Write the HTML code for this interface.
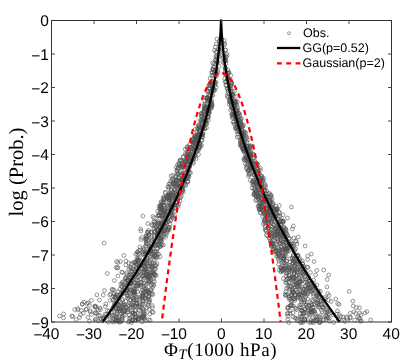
<!DOCTYPE html>
<html><head><meta charset="utf-8"><style>
html,body{margin:0;padding:0;background:#fff}
svg{display:block;will-change:transform}
text{text-rendering:geometricPrecision}
text{font-family:"Liberation Sans",sans-serif;fill:#000}
.tk text{font-size:15.5px}
.lg text{font-size:12.5px}
.ax{font-family:"Liberation Serif",serif;font-size:19px}
#pts circle{r:1.9px}
</style></head><body>
<svg width="412" height="363" viewBox="0 0 412 363">
<rect width="412" height="363" fill="#fff"/>
<g id="pts" fill="none" stroke="#505050" stroke-width="0.6"><circle cx="288.9" cy="275.1" r="1.9"/><circle cx="152.2" cy="305.6" r="1.9"/><circle cx="146.2" cy="237.6" r="1.9"/><circle cx="190.4" cy="154.0" r="1.9"/><circle cx="136.9" cy="303.2" r="1.9"/><circle cx="268.8" cy="227.9" r="1.9"/><circle cx="123.1" cy="311.8" r="1.9"/><circle cx="280.9" cy="272.0" r="1.9"/><circle cx="131.3" cy="304.6" r="1.9"/><circle cx="232.9" cy="108.5" r="1.9"/><circle cx="197.7" cy="148.9" r="1.9"/><circle cx="233.4" cy="110.9" r="1.9"/><circle cx="146.8" cy="252.6" r="1.9"/><circle cx="279.5" cy="251.1" r="1.9"/><circle cx="278.1" cy="231.1" r="1.9"/><circle cx="257.7" cy="169.1" r="1.9"/><circle cx="125.0" cy="305.0" r="1.9"/><circle cx="131.7" cy="289.7" r="1.9"/><circle cx="193.2" cy="143.8" r="1.9"/><circle cx="209.6" cy="106.5" r="1.9"/><circle cx="284.3" cy="247.8" r="1.9"/><circle cx="195.3" cy="129.4" r="1.9"/><circle cx="302.8" cy="264.1" r="1.9"/><circle cx="164.2" cy="222.6" r="1.9"/><circle cx="209.8" cy="106.0" r="1.9"/><circle cx="177.4" cy="194.8" r="1.9"/><circle cx="205.7" cy="119.7" r="1.9"/><circle cx="252.0" cy="166.4" r="1.9"/><circle cx="205.1" cy="123.8" r="1.9"/><circle cx="301.4" cy="310.3" r="1.9"/><circle cx="234.3" cy="105.4" r="1.9"/><circle cx="137.4" cy="252.0" r="1.9"/><circle cx="339.3" cy="314.5" r="1.9"/><circle cx="208.6" cy="111.5" r="1.9"/><circle cx="240.9" cy="142.8" r="1.9"/><circle cx="194.6" cy="137.0" r="1.9"/><circle cx="128.7" cy="275.4" r="1.9"/><circle cx="222.4" cy="43.8" r="1.9"/><circle cx="139.6" cy="307.3" r="1.9"/><circle cx="338.9" cy="304.5" r="1.9"/><circle cx="256.4" cy="190.4" r="1.9"/><circle cx="278.1" cy="224.4" r="1.9"/><circle cx="294.7" cy="262.0" r="1.9"/><circle cx="283.9" cy="235.5" r="1.9"/><circle cx="97.3" cy="319.5" r="1.9"/><circle cx="242.6" cy="145.2" r="1.9"/><circle cx="275.9" cy="215.7" r="1.9"/><circle cx="153.2" cy="275.5" r="1.9"/><circle cx="209.9" cy="99.6" r="1.9"/><circle cx="285.1" cy="294.4" r="1.9"/><circle cx="292.3" cy="263.9" r="1.9"/><circle cx="280.2" cy="228.5" r="1.9"/><circle cx="122.1" cy="294.4" r="1.9"/><circle cx="188.1" cy="156.0" r="1.9"/><circle cx="299.1" cy="288.2" r="1.9"/><circle cx="211.4" cy="107.7" r="1.9"/><circle cx="227.3" cy="79.1" r="1.9"/><circle cx="145.4" cy="251.9" r="1.9"/><circle cx="233.9" cy="105.2" r="1.9"/><circle cx="257.0" cy="196.8" r="1.9"/><circle cx="155.1" cy="251.1" r="1.9"/><circle cx="259.1" cy="209.7" r="1.9"/><circle cx="157.3" cy="224.7" r="1.9"/><circle cx="155.4" cy="252.3" r="1.9"/><circle cx="193.1" cy="146.5" r="1.9"/><circle cx="294.1" cy="261.3" r="1.9"/><circle cx="151.3" cy="290.1" r="1.9"/><circle cx="292.9" cy="285.1" r="1.9"/><circle cx="279.1" cy="249.3" r="1.9"/><circle cx="122.0" cy="286.4" r="1.9"/><circle cx="303.4" cy="293.6" r="1.9"/><circle cx="208.9" cy="110.4" r="1.9"/><circle cx="318.9" cy="296.5" r="1.9"/><circle cx="258.6" cy="172.8" r="1.9"/><circle cx="337.1" cy="314.0" r="1.9"/><circle cx="265.3" cy="186.5" r="1.9"/><circle cx="170.1" cy="194.2" r="1.9"/><circle cx="201.3" cy="113.2" r="1.9"/><circle cx="134.0" cy="298.4" r="1.9"/><circle cx="87.9" cy="317.3" r="1.9"/><circle cx="246.1" cy="138.3" r="1.9"/><circle cx="148.4" cy="299.1" r="1.9"/><circle cx="281.3" cy="235.4" r="1.9"/><circle cx="272.6" cy="236.5" r="1.9"/><circle cx="271.2" cy="245.7" r="1.9"/><circle cx="133.4" cy="280.1" r="1.9"/><circle cx="250.0" cy="170.3" r="1.9"/><circle cx="285.8" cy="237.0" r="1.9"/><circle cx="307.6" cy="256.0" r="1.9"/><circle cx="278.5" cy="228.8" r="1.9"/><circle cx="165.4" cy="192.2" r="1.9"/><circle cx="189.5" cy="144.5" r="1.9"/><circle cx="251.0" cy="166.1" r="1.9"/><circle cx="272.0" cy="244.4" r="1.9"/><circle cx="240.6" cy="119.9" r="1.9"/><circle cx="146.8" cy="307.8" r="1.9"/><circle cx="241.6" cy="132.6" r="1.9"/><circle cx="164.6" cy="231.1" r="1.9"/><circle cx="254.9" cy="164.4" r="1.9"/><circle cx="271.5" cy="207.5" r="1.9"/><circle cx="204.3" cy="126.4" r="1.9"/><circle cx="172.8" cy="205.3" r="1.9"/><circle cx="152.5" cy="287.9" r="1.9"/><circle cx="324.0" cy="307.0" r="1.9"/><circle cx="254.5" cy="161.4" r="1.9"/><circle cx="213.2" cy="88.7" r="1.9"/><circle cx="248.0" cy="159.8" r="1.9"/><circle cx="231.6" cy="94.8" r="1.9"/><circle cx="148.9" cy="252.7" r="1.9"/><circle cx="224.9" cy="60.5" r="1.9"/><circle cx="215.8" cy="52.2" r="1.9"/><circle cx="188.1" cy="174.1" r="1.9"/><circle cx="236.7" cy="126.8" r="1.9"/><circle cx="197.4" cy="135.2" r="1.9"/><circle cx="265.8" cy="229.9" r="1.9"/><circle cx="278.8" cy="234.8" r="1.9"/><circle cx="273.9" cy="216.7" r="1.9"/><circle cx="198.3" cy="138.0" r="1.9"/><circle cx="194.4" cy="142.1" r="1.9"/><circle cx="316.9" cy="302.8" r="1.9"/><circle cx="323.3" cy="300.2" r="1.9"/><circle cx="91.3" cy="300.5" r="1.9"/><circle cx="130.7" cy="273.9" r="1.9"/><circle cx="198.5" cy="154.5" r="1.9"/><circle cx="171.4" cy="190.4" r="1.9"/><circle cx="245.2" cy="154.6" r="1.9"/><circle cx="291.8" cy="290.3" r="1.9"/><circle cx="176.7" cy="184.3" r="1.9"/><circle cx="199.3" cy="131.3" r="1.9"/><circle cx="172.7" cy="216.5" r="1.9"/><circle cx="317.6" cy="291.3" r="1.9"/><circle cx="119.0" cy="311.3" r="1.9"/><circle cx="261.4" cy="196.1" r="1.9"/><circle cx="165.1" cy="212.3" r="1.9"/><circle cx="294.1" cy="277.7" r="1.9"/><circle cx="146.0" cy="263.6" r="1.9"/><circle cx="236.9" cy="128.8" r="1.9"/><circle cx="186.4" cy="179.0" r="1.9"/><circle cx="285.5" cy="268.8" r="1.9"/><circle cx="168.2" cy="207.7" r="1.9"/><circle cx="169.9" cy="183.6" r="1.9"/><circle cx="245.1" cy="141.7" r="1.9"/><circle cx="256.1" cy="195.5" r="1.9"/><circle cx="206.5" cy="123.9" r="1.9"/><circle cx="250.3" cy="147.6" r="1.9"/><circle cx="147.6" cy="232.0" r="1.9"/><circle cx="260.4" cy="170.4" r="1.9"/><circle cx="137.7" cy="262.6" r="1.9"/><circle cx="160.2" cy="246.4" r="1.9"/><circle cx="312.4" cy="317.8" r="1.9"/><circle cx="152.4" cy="225.5" r="1.9"/><circle cx="153.5" cy="257.2" r="1.9"/><circle cx="254.1" cy="194.0" r="1.9"/><circle cx="256.7" cy="168.6" r="1.9"/><circle cx="212.1" cy="91.3" r="1.9"/><circle cx="147.9" cy="283.4" r="1.9"/><circle cx="131.7" cy="322.6" r="1.9"/><circle cx="203.3" cy="114.4" r="1.9"/><circle cx="135.3" cy="270.9" r="1.9"/><circle cx="151.4" cy="246.8" r="1.9"/><circle cx="261.6" cy="199.6" r="1.9"/><circle cx="187.9" cy="175.6" r="1.9"/><circle cx="96.9" cy="294.8" r="1.9"/><circle cx="295.0" cy="286.4" r="1.9"/><circle cx="270.1" cy="206.0" r="1.9"/><circle cx="143.1" cy="254.1" r="1.9"/><circle cx="198.0" cy="141.5" r="1.9"/><circle cx="258.6" cy="199.4" r="1.9"/><circle cx="136.1" cy="317.1" r="1.9"/><circle cx="249.2" cy="169.8" r="1.9"/><circle cx="350.3" cy="313.2" r="1.9"/><circle cx="277.0" cy="238.8" r="1.9"/><circle cx="243.4" cy="124.9" r="1.9"/><circle cx="271.2" cy="234.2" r="1.9"/><circle cx="262.6" cy="216.6" r="1.9"/><circle cx="303.8" cy="266.3" r="1.9"/><circle cx="214.3" cy="89.3" r="1.9"/><circle cx="120.6" cy="295.0" r="1.9"/><circle cx="274.0" cy="220.7" r="1.9"/><circle cx="195.4" cy="144.1" r="1.9"/><circle cx="262.3" cy="198.7" r="1.9"/><circle cx="119.9" cy="289.2" r="1.9"/><circle cx="127.9" cy="311.5" r="1.9"/><circle cx="275.4" cy="213.3" r="1.9"/><circle cx="250.8" cy="151.4" r="1.9"/><circle cx="292.3" cy="291.9" r="1.9"/><circle cx="127.2" cy="290.0" r="1.9"/><circle cx="157.4" cy="257.4" r="1.9"/><circle cx="286.0" cy="291.7" r="1.9"/><circle cx="270.2" cy="235.8" r="1.9"/><circle cx="312.7" cy="289.7" r="1.9"/><circle cx="263.6" cy="178.6" r="1.9"/><circle cx="215.5" cy="70.5" r="1.9"/><circle cx="278.8" cy="228.6" r="1.9"/><circle cx="207.0" cy="109.1" r="1.9"/><circle cx="303.8" cy="288.9" r="1.9"/><circle cx="190.7" cy="158.2" r="1.9"/><circle cx="287.2" cy="241.3" r="1.9"/><circle cx="320.4" cy="317.4" r="1.9"/><circle cx="165.5" cy="237.3" r="1.9"/><circle cx="286.2" cy="232.4" r="1.9"/><circle cx="261.8" cy="198.6" r="1.9"/><circle cx="133.7" cy="299.6" r="1.9"/><circle cx="211.9" cy="103.6" r="1.9"/><circle cx="205.3" cy="106.6" r="1.9"/><circle cx="187.8" cy="182.1" r="1.9"/><circle cx="148.3" cy="252.7" r="1.9"/><circle cx="133.5" cy="290.1" r="1.9"/><circle cx="147.3" cy="277.5" r="1.9"/><circle cx="269.9" cy="212.0" r="1.9"/><circle cx="164.5" cy="205.0" r="1.9"/><circle cx="189.8" cy="147.6" r="1.9"/><circle cx="293.9" cy="259.9" r="1.9"/><circle cx="117.9" cy="276.0" r="1.9"/><circle cx="144.1" cy="265.9" r="1.9"/><circle cx="293.3" cy="277.3" r="1.9"/><circle cx="315.6" cy="275.0" r="1.9"/><circle cx="302.4" cy="261.0" r="1.9"/><circle cx="250.1" cy="146.4" r="1.9"/><circle cx="298.5" cy="264.3" r="1.9"/><circle cx="253.6" cy="163.8" r="1.9"/><circle cx="139.2" cy="274.1" r="1.9"/><circle cx="237.5" cy="109.8" r="1.9"/><circle cx="280.5" cy="243.7" r="1.9"/><circle cx="135.8" cy="317.1" r="1.9"/><circle cx="137.4" cy="259.8" r="1.9"/><circle cx="143.4" cy="264.0" r="1.9"/><circle cx="259.0" cy="180.4" r="1.9"/><circle cx="152.7" cy="266.6" r="1.9"/><circle cx="149.1" cy="301.6" r="1.9"/><circle cx="198.8" cy="135.2" r="1.9"/><circle cx="150.0" cy="248.6" r="1.9"/><circle cx="144.9" cy="254.2" r="1.9"/><circle cx="165.1" cy="211.6" r="1.9"/><circle cx="144.6" cy="277.6" r="1.9"/><circle cx="264.7" cy="213.6" r="1.9"/><circle cx="315.5" cy="320.0" r="1.9"/><circle cx="192.3" cy="149.1" r="1.9"/><circle cx="174.9" cy="196.7" r="1.9"/><circle cx="144.3" cy="266.1" r="1.9"/><circle cx="181.7" cy="189.1" r="1.9"/><circle cx="232.4" cy="93.9" r="1.9"/><circle cx="133.8" cy="291.9" r="1.9"/><circle cx="216.4" cy="73.7" r="1.9"/><circle cx="166.9" cy="212.0" r="1.9"/><circle cx="141.2" cy="279.4" r="1.9"/><circle cx="230.7" cy="91.2" r="1.9"/><circle cx="143.8" cy="283.2" r="1.9"/><circle cx="282.0" cy="255.6" r="1.9"/><circle cx="187.4" cy="148.9" r="1.9"/><circle cx="304.6" cy="304.0" r="1.9"/><circle cx="154.9" cy="232.0" r="1.9"/><circle cx="307.5" cy="284.6" r="1.9"/><circle cx="143.0" cy="300.2" r="1.9"/><circle cx="313.2" cy="301.0" r="1.9"/><circle cx="270.1" cy="233.4" r="1.9"/><circle cx="252.6" cy="182.4" r="1.9"/><circle cx="202.3" cy="124.7" r="1.9"/><circle cx="124.3" cy="287.2" r="1.9"/><circle cx="237.8" cy="122.9" r="1.9"/><circle cx="153.5" cy="284.1" r="1.9"/><circle cx="317.6" cy="303.7" r="1.9"/><circle cx="138.9" cy="253.5" r="1.9"/><circle cx="244.0" cy="132.0" r="1.9"/><circle cx="211.3" cy="107.7" r="1.9"/><circle cx="310.7" cy="311.5" r="1.9"/><circle cx="171.3" cy="207.2" r="1.9"/><circle cx="253.1" cy="180.5" r="1.9"/><circle cx="230.5" cy="91.7" r="1.9"/><circle cx="117.8" cy="320.7" r="1.9"/><circle cx="283.6" cy="258.7" r="1.9"/><circle cx="188.0" cy="181.0" r="1.9"/><circle cx="201.3" cy="134.1" r="1.9"/><circle cx="294.0" cy="272.4" r="1.9"/><circle cx="270.8" cy="195.0" r="1.9"/><circle cx="298.0" cy="298.1" r="1.9"/><circle cx="165.1" cy="213.5" r="1.9"/><circle cx="253.1" cy="161.8" r="1.9"/><circle cx="282.9" cy="269.6" r="1.9"/><circle cx="169.0" cy="227.5" r="1.9"/><circle cx="299.3" cy="259.8" r="1.9"/><circle cx="159.0" cy="206.5" r="1.9"/><circle cx="150.4" cy="250.1" r="1.9"/><circle cx="270.5" cy="226.3" r="1.9"/><circle cx="291.9" cy="295.0" r="1.9"/><circle cx="99.9" cy="308.0" r="1.9"/><circle cx="150.9" cy="250.4" r="1.9"/><circle cx="266.3" cy="198.7" r="1.9"/><circle cx="144.0" cy="313.7" r="1.9"/><circle cx="258.5" cy="196.1" r="1.9"/><circle cx="307.9" cy="299.4" r="1.9"/><circle cx="288.1" cy="308.0" r="1.9"/><circle cx="164.2" cy="198.6" r="1.9"/><circle cx="116.1" cy="267.5" r="1.9"/><circle cx="139.2" cy="260.4" r="1.9"/><circle cx="265.8" cy="201.7" r="1.9"/><circle cx="130.6" cy="275.0" r="1.9"/><circle cx="167.2" cy="230.2" r="1.9"/><circle cx="196.6" cy="140.4" r="1.9"/><circle cx="274.9" cy="234.2" r="1.9"/><circle cx="175.8" cy="186.2" r="1.9"/><circle cx="194.5" cy="142.1" r="1.9"/><circle cx="120.3" cy="310.6" r="1.9"/><circle cx="141.8" cy="298.1" r="1.9"/><circle cx="148.5" cy="277.0" r="1.9"/><circle cx="157.7" cy="211.2" r="1.9"/><circle cx="119.4" cy="308.8" r="1.9"/><circle cx="225.0" cy="57.7" r="1.9"/><circle cx="271.4" cy="232.4" r="1.9"/><circle cx="160.6" cy="209.3" r="1.9"/><circle cx="284.0" cy="230.9" r="1.9"/><circle cx="286.0" cy="248.8" r="1.9"/><circle cx="326.8" cy="310.0" r="1.9"/><circle cx="175.1" cy="182.8" r="1.9"/><circle cx="294.6" cy="284.6" r="1.9"/><circle cx="278.6" cy="264.3" r="1.9"/><circle cx="187.3" cy="153.9" r="1.9"/><circle cx="120.7" cy="309.3" r="1.9"/><circle cx="260.5" cy="212.2" r="1.9"/><circle cx="230.2" cy="100.8" r="1.9"/><circle cx="132.2" cy="281.3" r="1.9"/><circle cx="156.2" cy="255.3" r="1.9"/><circle cx="153.9" cy="253.6" r="1.9"/><circle cx="283.2" cy="220.9" r="1.9"/><circle cx="169.4" cy="227.3" r="1.9"/><circle cx="150.7" cy="275.1" r="1.9"/><circle cx="194.3" cy="156.2" r="1.9"/><circle cx="113.3" cy="306.9" r="1.9"/><circle cx="328.3" cy="311.1" r="1.9"/><circle cx="319.3" cy="305.0" r="1.9"/><circle cx="196.9" cy="131.0" r="1.9"/><circle cx="286.6" cy="242.6" r="1.9"/><circle cx="308.6" cy="314.7" r="1.9"/><circle cx="183.1" cy="156.6" r="1.9"/><circle cx="273.6" cy="245.7" r="1.9"/><circle cx="242.1" cy="134.3" r="1.9"/><circle cx="289.0" cy="297.6" r="1.9"/><circle cx="275.4" cy="244.6" r="1.9"/><circle cx="174.9" cy="205.2" r="1.9"/><circle cx="256.1" cy="191.1" r="1.9"/><circle cx="162.0" cy="209.9" r="1.9"/><circle cx="319.2" cy="322.6" r="1.9"/><circle cx="167.7" cy="196.7" r="1.9"/><circle cx="211.0" cy="84.8" r="1.9"/><circle cx="220.3" cy="46.5" r="1.9"/><circle cx="195.7" cy="156.2" r="1.9"/><circle cx="208.0" cy="97.9" r="1.9"/><circle cx="282.8" cy="255.7" r="1.9"/><circle cx="232.0" cy="83.0" r="1.9"/><circle cx="208.9" cy="109.7" r="1.9"/><circle cx="275.0" cy="208.8" r="1.9"/><circle cx="209.3" cy="88.5" r="1.9"/><circle cx="266.8" cy="216.4" r="1.9"/><circle cx="215.3" cy="83.4" r="1.9"/><circle cx="243.9" cy="148.9" r="1.9"/><circle cx="133.5" cy="294.5" r="1.9"/><circle cx="277.1" cy="209.3" r="1.9"/><circle cx="313.6" cy="311.4" r="1.9"/><circle cx="214.8" cy="75.0" r="1.9"/><circle cx="286.4" cy="270.9" r="1.9"/><circle cx="274.9" cy="229.1" r="1.9"/><circle cx="156.4" cy="233.6" r="1.9"/><circle cx="161.0" cy="223.9" r="1.9"/><circle cx="303.8" cy="301.9" r="1.9"/><circle cx="298.7" cy="295.0" r="1.9"/><circle cx="186.5" cy="161.3" r="1.9"/><circle cx="289.2" cy="238.7" r="1.9"/><circle cx="129.0" cy="302.8" r="1.9"/><circle cx="316.5" cy="296.2" r="1.9"/><circle cx="133.3" cy="313.1" r="1.9"/><circle cx="103.0" cy="318.3" r="1.9"/><circle cx="269.4" cy="233.3" r="1.9"/><circle cx="339.1" cy="319.5" r="1.9"/><circle cx="242.4" cy="133.5" r="1.9"/><circle cx="318.4" cy="294.5" r="1.9"/><circle cx="311.0" cy="312.4" r="1.9"/><circle cx="137.4" cy="254.2" r="1.9"/><circle cx="190.6" cy="161.4" r="1.9"/><circle cx="195.6" cy="136.8" r="1.9"/><circle cx="295.2" cy="308.5" r="1.9"/><circle cx="194.9" cy="137.1" r="1.9"/><circle cx="302.2" cy="316.6" r="1.9"/><circle cx="255.3" cy="163.7" r="1.9"/><circle cx="283.8" cy="236.6" r="1.9"/><circle cx="101.0" cy="318.8" r="1.9"/><circle cx="291.3" cy="305.0" r="1.9"/><circle cx="153.9" cy="217.9" r="1.9"/><circle cx="143.5" cy="263.5" r="1.9"/><circle cx="211.2" cy="104.4" r="1.9"/><circle cx="82.3" cy="304.2" r="1.9"/><circle cx="187.2" cy="162.1" r="1.9"/><circle cx="312.5" cy="310.9" r="1.9"/><circle cx="305.6" cy="272.9" r="1.9"/><circle cx="170.7" cy="206.2" r="1.9"/><circle cx="169.7" cy="203.2" r="1.9"/><circle cx="168.1" cy="227.1" r="1.9"/><circle cx="207.0" cy="98.9" r="1.9"/><circle cx="260.0" cy="207.1" r="1.9"/><circle cx="238.7" cy="137.3" r="1.9"/><circle cx="139.3" cy="266.1" r="1.9"/><circle cx="212.0" cy="90.4" r="1.9"/><circle cx="117.1" cy="295.4" r="1.9"/><circle cx="173.3" cy="183.8" r="1.9"/><circle cx="235.4" cy="127.5" r="1.9"/><circle cx="232.4" cy="91.2" r="1.9"/><circle cx="224.2" cy="55.2" r="1.9"/><circle cx="327.4" cy="312.3" r="1.9"/><circle cx="230.8" cy="98.7" r="1.9"/><circle cx="182.3" cy="165.0" r="1.9"/><circle cx="326.9" cy="287.0" r="1.9"/><circle cx="266.8" cy="221.0" r="1.9"/><circle cx="289.4" cy="238.1" r="1.9"/><circle cx="296.8" cy="309.7" r="1.9"/><circle cx="229.3" cy="86.7" r="1.9"/><circle cx="159.8" cy="211.9" r="1.9"/><circle cx="212.6" cy="88.6" r="1.9"/><circle cx="164.3" cy="229.1" r="1.9"/><circle cx="135.7" cy="254.2" r="1.9"/><circle cx="248.8" cy="173.6" r="1.9"/><circle cx="280.7" cy="232.3" r="1.9"/><circle cx="294.9" cy="299.0" r="1.9"/><circle cx="260.2" cy="201.1" r="1.9"/><circle cx="323.2" cy="307.8" r="1.9"/><circle cx="259.3" cy="192.1" r="1.9"/><circle cx="266.8" cy="202.1" r="1.9"/><circle cx="177.9" cy="180.7" r="1.9"/><circle cx="324.7" cy="305.2" r="1.9"/><circle cx="124.7" cy="310.0" r="1.9"/><circle cx="195.0" cy="148.7" r="1.9"/><circle cx="122.6" cy="305.4" r="1.9"/><circle cx="108.4" cy="322.3" r="1.9"/><circle cx="273.1" cy="219.1" r="1.9"/><circle cx="242.9" cy="132.8" r="1.9"/><circle cx="100.0" cy="315.5" r="1.9"/><circle cx="259.5" cy="196.9" r="1.9"/><circle cx="303.4" cy="299.8" r="1.9"/><circle cx="272.1" cy="208.1" r="1.9"/><circle cx="118.9" cy="297.8" r="1.9"/><circle cx="282.1" cy="243.6" r="1.9"/><circle cx="242.6" cy="126.8" r="1.9"/><circle cx="90.2" cy="310.6" r="1.9"/><circle cx="172.1" cy="210.0" r="1.9"/><circle cx="305.7" cy="296.5" r="1.9"/><circle cx="216.1" cy="87.3" r="1.9"/><circle cx="196.8" cy="135.4" r="1.9"/><circle cx="296.3" cy="241.5" r="1.9"/><circle cx="116.5" cy="318.9" r="1.9"/><circle cx="242.2" cy="135.6" r="1.9"/><circle cx="260.2" cy="178.1" r="1.9"/><circle cx="162.0" cy="203.9" r="1.9"/><circle cx="305.2" cy="281.9" r="1.9"/><circle cx="227.9" cy="93.4" r="1.9"/><circle cx="287.0" cy="234.2" r="1.9"/><circle cx="258.7" cy="190.1" r="1.9"/><circle cx="195.6" cy="143.3" r="1.9"/><circle cx="259.2" cy="203.0" r="1.9"/><circle cx="169.9" cy="224.0" r="1.9"/><circle cx="161.0" cy="238.1" r="1.9"/><circle cx="94.8" cy="306.5" r="1.9"/><circle cx="302.9" cy="274.9" r="1.9"/><circle cx="149.2" cy="281.5" r="1.9"/><circle cx="123.0" cy="290.7" r="1.9"/><circle cx="173.3" cy="183.1" r="1.9"/><circle cx="286.9" cy="273.5" r="1.9"/><circle cx="135.2" cy="295.5" r="1.9"/><circle cx="204.3" cy="117.7" r="1.9"/><circle cx="283.0" cy="231.1" r="1.9"/><circle cx="236.9" cy="117.0" r="1.9"/><circle cx="89.5" cy="321.1" r="1.9"/><circle cx="321.2" cy="301.5" r="1.9"/><circle cx="231.4" cy="83.8" r="1.9"/><circle cx="175.2" cy="183.8" r="1.9"/><circle cx="192.7" cy="142.2" r="1.9"/><circle cx="292.6" cy="278.3" r="1.9"/><circle cx="155.1" cy="269.6" r="1.9"/><circle cx="284.5" cy="266.0" r="1.9"/><circle cx="153.3" cy="277.5" r="1.9"/><circle cx="283.5" cy="268.6" r="1.9"/><circle cx="249.3" cy="151.1" r="1.9"/><circle cx="280.9" cy="221.6" r="1.9"/><circle cx="314.8" cy="320.9" r="1.9"/><circle cx="248.6" cy="170.2" r="1.9"/><circle cx="162.3" cy="225.8" r="1.9"/><circle cx="96.6" cy="313.5" r="1.9"/><circle cx="313.2" cy="289.1" r="1.9"/><circle cx="241.9" cy="142.3" r="1.9"/><circle cx="270.4" cy="213.3" r="1.9"/><circle cx="186.9" cy="147.2" r="1.9"/><circle cx="157.2" cy="242.6" r="1.9"/><circle cx="158.8" cy="215.6" r="1.9"/><circle cx="256.8" cy="163.7" r="1.9"/><circle cx="231.0" cy="86.0" r="1.9"/><circle cx="188.9" cy="170.9" r="1.9"/><circle cx="158.9" cy="214.9" r="1.9"/><circle cx="202.6" cy="128.9" r="1.9"/><circle cx="288.9" cy="296.1" r="1.9"/><circle cx="233.0" cy="114.8" r="1.9"/><circle cx="176.0" cy="179.6" r="1.9"/><circle cx="129.1" cy="292.2" r="1.9"/><circle cx="151.1" cy="246.7" r="1.9"/><circle cx="145.7" cy="246.2" r="1.9"/><circle cx="161.5" cy="208.5" r="1.9"/><circle cx="166.2" cy="234.6" r="1.9"/><circle cx="310.0" cy="280.8" r="1.9"/><circle cx="169.2" cy="197.6" r="1.9"/><circle cx="258.7" cy="192.4" r="1.9"/><circle cx="294.9" cy="265.3" r="1.9"/><circle cx="170.4" cy="220.5" r="1.9"/><circle cx="295.7" cy="266.6" r="1.9"/><circle cx="353.9" cy="311.8" r="1.9"/><circle cx="302.2" cy="266.3" r="1.9"/><circle cx="261.6" cy="199.2" r="1.9"/><circle cx="147.0" cy="253.0" r="1.9"/><circle cx="297.6" cy="292.1" r="1.9"/><circle cx="184.9" cy="160.5" r="1.9"/><circle cx="104.0" cy="318.7" r="1.9"/><circle cx="119.5" cy="322.3" r="1.9"/><circle cx="159.4" cy="240.9" r="1.9"/><circle cx="291.3" cy="243.7" r="1.9"/><circle cx="271.5" cy="215.7" r="1.9"/><circle cx="280.6" cy="227.0" r="1.9"/><circle cx="302.5" cy="280.8" r="1.9"/><circle cx="188.9" cy="160.8" r="1.9"/><circle cx="115.6" cy="303.8" r="1.9"/><circle cx="233.9" cy="121.9" r="1.9"/><circle cx="276.8" cy="227.7" r="1.9"/><circle cx="199.4" cy="146.2" r="1.9"/><circle cx="184.6" cy="172.8" r="1.9"/><circle cx="105.8" cy="304.0" r="1.9"/><circle cx="214.0" cy="67.3" r="1.9"/><circle cx="143.3" cy="312.8" r="1.9"/><circle cx="273.8" cy="246.9" r="1.9"/><circle cx="234.5" cy="106.3" r="1.9"/><circle cx="96.1" cy="307.0" r="1.9"/><circle cx="262.3" cy="205.7" r="1.9"/><circle cx="132.6" cy="302.4" r="1.9"/><circle cx="263.2" cy="195.6" r="1.9"/><circle cx="258.3" cy="188.3" r="1.9"/><circle cx="71.8" cy="316.1" r="1.9"/><circle cx="265.1" cy="221.2" r="1.9"/><circle cx="309.0" cy="305.7" r="1.9"/><circle cx="254.8" cy="189.5" r="1.9"/><circle cx="130.5" cy="303.4" r="1.9"/><circle cx="263.1" cy="202.6" r="1.9"/><circle cx="148.7" cy="281.1" r="1.9"/><circle cx="294.7" cy="281.8" r="1.9"/><circle cx="279.6" cy="221.3" r="1.9"/><circle cx="161.6" cy="207.6" r="1.9"/><circle cx="187.6" cy="153.5" r="1.9"/><circle cx="204.3" cy="105.8" r="1.9"/><circle cx="156.5" cy="226.8" r="1.9"/><circle cx="112.7" cy="299.9" r="1.9"/><circle cx="144.5" cy="292.6" r="1.9"/><circle cx="264.2" cy="205.0" r="1.9"/><circle cx="146.0" cy="242.1" r="1.9"/><circle cx="292.1" cy="271.3" r="1.9"/><circle cx="283.3" cy="236.2" r="1.9"/><circle cx="216.1" cy="82.4" r="1.9"/><circle cx="135.5" cy="317.3" r="1.9"/><circle cx="218.6" cy="56.6" r="1.9"/><circle cx="257.2" cy="167.1" r="1.9"/><circle cx="315.3" cy="299.5" r="1.9"/><circle cx="177.5" cy="164.7" r="1.9"/><circle cx="262.7" cy="181.4" r="1.9"/><circle cx="303.9" cy="312.6" r="1.9"/><circle cx="132.2" cy="271.7" r="1.9"/><circle cx="179.1" cy="182.9" r="1.9"/><circle cx="260.5" cy="213.0" r="1.9"/><circle cx="227.3" cy="96.0" r="1.9"/><circle cx="169.2" cy="229.6" r="1.9"/><circle cx="237.0" cy="131.6" r="1.9"/><circle cx="277.7" cy="253.8" r="1.9"/><circle cx="296.6" cy="285.3" r="1.9"/><circle cx="144.8" cy="253.3" r="1.9"/><circle cx="181.3" cy="196.3" r="1.9"/><circle cx="158.6" cy="254.1" r="1.9"/><circle cx="242.3" cy="147.9" r="1.9"/><circle cx="117.4" cy="321.0" r="1.9"/><circle cx="273.9" cy="225.1" r="1.9"/><circle cx="291.0" cy="305.7" r="1.9"/><circle cx="88.3" cy="302.9" r="1.9"/><circle cx="162.7" cy="231.3" r="1.9"/><circle cx="255.2" cy="173.8" r="1.9"/><circle cx="305.1" cy="286.0" r="1.9"/><circle cx="140.6" cy="282.3" r="1.9"/><circle cx="162.7" cy="231.8" r="1.9"/><circle cx="329.5" cy="321.2" r="1.9"/><circle cx="219.9" cy="52.4" r="1.9"/><circle cx="152.9" cy="272.9" r="1.9"/><circle cx="285.1" cy="268.0" r="1.9"/><circle cx="277.2" cy="233.7" r="1.9"/><circle cx="250.9" cy="153.8" r="1.9"/><circle cx="277.3" cy="208.6" r="1.9"/><circle cx="208.7" cy="94.8" r="1.9"/><circle cx="315.4" cy="315.8" r="1.9"/><circle cx="270.0" cy="199.5" r="1.9"/><circle cx="239.8" cy="115.6" r="1.9"/><circle cx="177.5" cy="169.2" r="1.9"/><circle cx="139.4" cy="306.6" r="1.9"/><circle cx="123.8" cy="314.2" r="1.9"/><circle cx="293.8" cy="292.5" r="1.9"/><circle cx="160.9" cy="229.7" r="1.9"/><circle cx="249.9" cy="162.6" r="1.9"/><circle cx="152.1" cy="236.7" r="1.9"/><circle cx="227.5" cy="73.5" r="1.9"/><circle cx="224.7" cy="78.5" r="1.9"/><circle cx="236.8" cy="121.2" r="1.9"/><circle cx="183.3" cy="172.9" r="1.9"/><circle cx="297.6" cy="269.5" r="1.9"/><circle cx="238.6" cy="129.1" r="1.9"/><circle cx="182.5" cy="173.6" r="1.9"/><circle cx="238.5" cy="119.6" r="1.9"/><circle cx="263.4" cy="209.2" r="1.9"/><circle cx="137.2" cy="304.0" r="1.9"/><circle cx="266.8" cy="216.1" r="1.9"/><circle cx="242.8" cy="148.9" r="1.9"/><circle cx="231.8" cy="114.2" r="1.9"/><circle cx="245.7" cy="151.7" r="1.9"/><circle cx="227.8" cy="79.0" r="1.9"/><circle cx="204.8" cy="128.9" r="1.9"/><circle cx="254.2" cy="194.2" r="1.9"/><circle cx="176.6" cy="205.1" r="1.9"/><circle cx="227.4" cy="88.4" r="1.9"/><circle cx="179.7" cy="192.3" r="1.9"/><circle cx="191.6" cy="147.9" r="1.9"/><circle cx="126.2" cy="292.6" r="1.9"/><circle cx="204.7" cy="128.4" r="1.9"/><circle cx="174.5" cy="199.8" r="1.9"/><circle cx="144.8" cy="262.7" r="1.9"/><circle cx="202.2" cy="120.4" r="1.9"/><circle cx="271.0" cy="222.1" r="1.9"/><circle cx="148.7" cy="296.9" r="1.9"/><circle cx="333.7" cy="322.5" r="1.9"/><circle cx="135.9" cy="303.9" r="1.9"/><circle cx="303.4" cy="279.4" r="1.9"/><circle cx="160.5" cy="226.7" r="1.9"/><circle cx="256.6" cy="182.4" r="1.9"/><circle cx="104.5" cy="316.9" r="1.9"/><circle cx="159.2" cy="244.2" r="1.9"/><circle cx="281.4" cy="238.1" r="1.9"/><circle cx="201.6" cy="116.3" r="1.9"/><circle cx="151.8" cy="231.7" r="1.9"/><circle cx="229.2" cy="94.1" r="1.9"/><circle cx="190.0" cy="147.2" r="1.9"/><circle cx="102.8" cy="318.3" r="1.9"/><circle cx="246.0" cy="157.4" r="1.9"/><circle cx="205.8" cy="98.2" r="1.9"/><circle cx="173.8" cy="195.4" r="1.9"/><circle cx="128.8" cy="263.0" r="1.9"/><circle cx="160.7" cy="211.9" r="1.9"/><circle cx="247.5" cy="151.7" r="1.9"/><circle cx="237.3" cy="101.8" r="1.9"/><circle cx="174.4" cy="189.9" r="1.9"/><circle cx="271.2" cy="204.9" r="1.9"/><circle cx="277.9" cy="216.3" r="1.9"/><circle cx="311.7" cy="303.6" r="1.9"/><circle cx="170.7" cy="180.6" r="1.9"/><circle cx="235.1" cy="101.7" r="1.9"/><circle cx="256.1" cy="176.3" r="1.9"/><circle cx="244.0" cy="142.2" r="1.9"/><circle cx="231.0" cy="82.1" r="1.9"/><circle cx="278.9" cy="247.9" r="1.9"/><circle cx="145.2" cy="259.2" r="1.9"/><circle cx="170.6" cy="205.9" r="1.9"/><circle cx="163.5" cy="230.8" r="1.9"/><circle cx="211.7" cy="72.3" r="1.9"/><circle cx="130.7" cy="307.4" r="1.9"/><circle cx="118.0" cy="308.6" r="1.9"/><circle cx="213.4" cy="67.1" r="1.9"/><circle cx="269.8" cy="211.2" r="1.9"/><circle cx="317.3" cy="319.7" r="1.9"/><circle cx="259.1" cy="176.8" r="1.9"/><circle cx="266.8" cy="220.3" r="1.9"/><circle cx="288.9" cy="322.6" r="1.9"/><circle cx="268.2" cy="200.2" r="1.9"/><circle cx="271.4" cy="246.6" r="1.9"/><circle cx="139.8" cy="285.6" r="1.9"/><circle cx="259.9" cy="205.9" r="1.9"/><circle cx="143.2" cy="300.8" r="1.9"/><circle cx="249.9" cy="168.4" r="1.9"/><circle cx="209.6" cy="85.3" r="1.9"/><circle cx="231.7" cy="95.1" r="1.9"/><circle cx="127.4" cy="289.3" r="1.9"/><circle cx="307.8" cy="284.1" r="1.9"/><circle cx="134.9" cy="305.6" r="1.9"/><circle cx="285.3" cy="228.5" r="1.9"/><circle cx="187.9" cy="168.1" r="1.9"/><circle cx="259.5" cy="184.5" r="1.9"/><circle cx="142.8" cy="293.0" r="1.9"/><circle cx="274.3" cy="251.2" r="1.9"/><circle cx="255.0" cy="190.6" r="1.9"/><circle cx="228.9" cy="88.7" r="1.9"/><circle cx="149.1" cy="292.0" r="1.9"/><circle cx="231.9" cy="108.6" r="1.9"/><circle cx="137.8" cy="261.0" r="1.9"/><circle cx="144.4" cy="303.8" r="1.9"/><circle cx="283.0" cy="269.1" r="1.9"/><circle cx="191.0" cy="163.1" r="1.9"/><circle cx="251.8" cy="166.4" r="1.9"/><circle cx="186.6" cy="165.0" r="1.9"/><circle cx="194.9" cy="135.2" r="1.9"/><circle cx="238.3" cy="122.7" r="1.9"/><circle cx="184.3" cy="177.9" r="1.9"/><circle cx="144.0" cy="286.6" r="1.9"/><circle cx="260.5" cy="184.3" r="1.9"/><circle cx="149.0" cy="293.3" r="1.9"/><circle cx="151.8" cy="256.2" r="1.9"/><circle cx="286.8" cy="251.5" r="1.9"/><circle cx="279.4" cy="205.5" r="1.9"/><circle cx="153.5" cy="245.4" r="1.9"/><circle cx="146.4" cy="291.9" r="1.9"/><circle cx="287.9" cy="316.3" r="1.9"/><circle cx="251.6" cy="155.6" r="1.9"/><circle cx="174.7" cy="204.6" r="1.9"/><circle cx="286.7" cy="269.7" r="1.9"/><circle cx="316.9" cy="317.2" r="1.9"/><circle cx="320.8" cy="304.4" r="1.9"/><circle cx="142.5" cy="316.9" r="1.9"/><circle cx="207.7" cy="101.0" r="1.9"/><circle cx="250.3" cy="155.0" r="1.9"/><circle cx="314.0" cy="261.5" r="1.9"/><circle cx="218.7" cy="49.0" r="1.9"/><circle cx="139.9" cy="247.0" r="1.9"/><circle cx="146.7" cy="237.9" r="1.9"/><circle cx="176.3" cy="194.8" r="1.9"/><circle cx="241.0" cy="123.8" r="1.9"/><circle cx="236.5" cy="113.7" r="1.9"/><circle cx="185.6" cy="185.6" r="1.9"/><circle cx="148.0" cy="239.8" r="1.9"/><circle cx="316.9" cy="302.3" r="1.9"/><circle cx="152.4" cy="294.8" r="1.9"/><circle cx="300.5" cy="281.1" r="1.9"/><circle cx="146.0" cy="275.3" r="1.9"/><circle cx="118.1" cy="304.9" r="1.9"/><circle cx="147.7" cy="232.5" r="1.9"/><circle cx="258.2" cy="196.7" r="1.9"/><circle cx="307.7" cy="288.3" r="1.9"/><circle cx="281.2" cy="250.8" r="1.9"/><circle cx="128.3" cy="305.6" r="1.9"/><circle cx="317.0" cy="295.4" r="1.9"/><circle cx="152.0" cy="266.4" r="1.9"/><circle cx="139.1" cy="284.5" r="1.9"/><circle cx="122.2" cy="315.8" r="1.9"/><circle cx="144.1" cy="288.4" r="1.9"/><circle cx="285.5" cy="229.3" r="1.9"/><circle cx="242.1" cy="145.7" r="1.9"/><circle cx="239.9" cy="128.9" r="1.9"/><circle cx="136.8" cy="297.1" r="1.9"/><circle cx="201.0" cy="122.0" r="1.9"/><circle cx="164.0" cy="205.8" r="1.9"/><circle cx="292.3" cy="268.7" r="1.9"/><circle cx="313.3" cy="322.7" r="1.9"/><circle cx="170.8" cy="193.4" r="1.9"/><circle cx="157.5" cy="231.1" r="1.9"/><circle cx="230.1" cy="96.4" r="1.9"/><circle cx="319.2" cy="307.4" r="1.9"/><circle cx="134.4" cy="292.2" r="1.9"/><circle cx="270.7" cy="214.3" r="1.9"/><circle cx="227.7" cy="78.3" r="1.9"/><circle cx="202.4" cy="137.0" r="1.9"/><circle cx="308.6" cy="309.8" r="1.9"/><circle cx="241.4" cy="133.3" r="1.9"/><circle cx="235.9" cy="114.9" r="1.9"/><circle cx="212.6" cy="62.9" r="1.9"/><circle cx="151.4" cy="241.2" r="1.9"/><circle cx="258.1" cy="173.2" r="1.9"/><circle cx="145.1" cy="289.2" r="1.9"/><circle cx="155.7" cy="257.8" r="1.9"/><circle cx="168.6" cy="196.9" r="1.9"/><circle cx="267.3" cy="196.4" r="1.9"/><circle cx="133.3" cy="269.0" r="1.9"/><circle cx="256.3" cy="185.5" r="1.9"/><circle cx="227.2" cy="88.9" r="1.9"/><circle cx="217.1" cy="62.5" r="1.9"/><circle cx="207.7" cy="97.6" r="1.9"/><circle cx="207.1" cy="117.3" r="1.9"/><circle cx="197.9" cy="128.1" r="1.9"/><circle cx="141.7" cy="237.5" r="1.9"/><circle cx="283.1" cy="249.1" r="1.9"/><circle cx="268.5" cy="223.3" r="1.9"/><circle cx="232.0" cy="114.3" r="1.9"/><circle cx="282.1" cy="221.0" r="1.9"/><circle cx="143.4" cy="271.8" r="1.9"/><circle cx="125.8" cy="265.0" r="1.9"/><circle cx="114.3" cy="304.0" r="1.9"/><circle cx="148.5" cy="232.4" r="1.9"/><circle cx="320.1" cy="322.5" r="1.9"/><circle cx="250.8" cy="169.5" r="1.9"/><circle cx="246.7" cy="168.6" r="1.9"/><circle cx="290.0" cy="310.8" r="1.9"/><circle cx="149.2" cy="280.2" r="1.9"/><circle cx="277.5" cy="230.5" r="1.9"/><circle cx="238.1" cy="120.5" r="1.9"/><circle cx="81.5" cy="310.5" r="1.9"/><circle cx="208.3" cy="116.5" r="1.9"/><circle cx="194.7" cy="154.5" r="1.9"/><circle cx="242.4" cy="148.3" r="1.9"/><circle cx="278.7" cy="226.6" r="1.9"/><circle cx="298.7" cy="277.0" r="1.9"/><circle cx="116.3" cy="294.6" r="1.9"/><circle cx="260.5" cy="175.4" r="1.9"/><circle cx="149.0" cy="266.3" r="1.9"/><circle cx="137.3" cy="285.3" r="1.9"/><circle cx="209.6" cy="98.3" r="1.9"/><circle cx="287.8" cy="319.5" r="1.9"/><circle cx="174.7" cy="207.6" r="1.9"/><circle cx="143.4" cy="279.2" r="1.9"/><circle cx="177.6" cy="188.0" r="1.9"/><circle cx="140.7" cy="315.8" r="1.9"/><circle cx="283.1" cy="232.9" r="1.9"/><circle cx="308.8" cy="277.2" r="1.9"/><circle cx="244.4" cy="149.1" r="1.9"/><circle cx="287.5" cy="218.0" r="1.9"/><circle cx="144.6" cy="318.2" r="1.9"/><circle cx="167.4" cy="205.3" r="1.9"/><circle cx="207.9" cy="108.0" r="1.9"/><circle cx="290.2" cy="277.7" r="1.9"/><circle cx="179.7" cy="186.0" r="1.9"/><circle cx="226.7" cy="53.9" r="1.9"/><circle cx="150.7" cy="289.4" r="1.9"/><circle cx="163.3" cy="223.3" r="1.9"/><circle cx="161.4" cy="239.4" r="1.9"/><circle cx="285.7" cy="242.5" r="1.9"/><circle cx="161.0" cy="201.7" r="1.9"/><circle cx="121.7" cy="293.1" r="1.9"/><circle cx="228.1" cy="97.3" r="1.9"/><circle cx="214.3" cy="72.0" r="1.9"/><circle cx="171.5" cy="203.5" r="1.9"/><circle cx="310.3" cy="288.9" r="1.9"/><circle cx="307.2" cy="267.0" r="1.9"/><circle cx="171.7" cy="202.7" r="1.9"/><circle cx="144.3" cy="318.6" r="1.9"/><circle cx="299.8" cy="293.8" r="1.9"/><circle cx="312.2" cy="292.0" r="1.9"/><circle cx="130.2" cy="282.9" r="1.9"/><circle cx="116.2" cy="320.9" r="1.9"/><circle cx="158.6" cy="229.9" r="1.9"/><circle cx="291.6" cy="271.4" r="1.9"/><circle cx="366.9" cy="311.6" r="1.9"/><circle cx="311.7" cy="312.3" r="1.9"/><circle cx="291.3" cy="294.8" r="1.9"/><circle cx="144.8" cy="275.6" r="1.9"/><circle cx="188.1" cy="170.6" r="1.9"/><circle cx="123.0" cy="284.5" r="1.9"/><circle cx="284.6" cy="243.2" r="1.9"/><circle cx="293.1" cy="312.9" r="1.9"/><circle cx="242.3" cy="140.4" r="1.9"/><circle cx="275.3" cy="225.6" r="1.9"/><circle cx="282.6" cy="253.3" r="1.9"/><circle cx="185.3" cy="153.6" r="1.9"/><circle cx="195.8" cy="138.4" r="1.9"/><circle cx="145.0" cy="314.1" r="1.9"/><circle cx="150.9" cy="250.7" r="1.9"/><circle cx="174.3" cy="195.6" r="1.9"/><circle cx="173.8" cy="184.3" r="1.9"/><circle cx="278.3" cy="259.3" r="1.9"/><circle cx="180.2" cy="159.9" r="1.9"/><circle cx="209.8" cy="91.2" r="1.9"/><circle cx="204.6" cy="104.4" r="1.9"/><circle cx="125.3" cy="278.7" r="1.9"/><circle cx="286.5" cy="288.5" r="1.9"/><circle cx="149.1" cy="309.5" r="1.9"/><circle cx="118.1" cy="291.7" r="1.9"/><circle cx="79.5" cy="317.5" r="1.9"/><circle cx="290.7" cy="270.0" r="1.9"/><circle cx="128.0" cy="311.8" r="1.9"/><circle cx="193.8" cy="150.7" r="1.9"/><circle cx="156.3" cy="275.4" r="1.9"/><circle cx="233.5" cy="95.8" r="1.9"/><circle cx="353.3" cy="306.0" r="1.9"/><circle cx="267.2" cy="208.7" r="1.9"/><circle cx="273.7" cy="249.2" r="1.9"/><circle cx="179.5" cy="183.6" r="1.9"/><circle cx="297.8" cy="255.1" r="1.9"/><circle cx="167.8" cy="218.8" r="1.9"/><circle cx="136.4" cy="286.6" r="1.9"/><circle cx="176.2" cy="197.9" r="1.9"/><circle cx="293.1" cy="291.1" r="1.9"/><circle cx="255.6" cy="200.5" r="1.9"/><circle cx="293.0" cy="262.9" r="1.9"/><circle cx="210.0" cy="107.6" r="1.9"/><circle cx="253.8" cy="194.7" r="1.9"/><circle cx="269.7" cy="239.2" r="1.9"/><circle cx="185.3" cy="176.1" r="1.9"/><circle cx="225.7" cy="73.6" r="1.9"/><circle cx="132.8" cy="313.0" r="1.9"/><circle cx="240.6" cy="145.9" r="1.9"/><circle cx="287.5" cy="294.2" r="1.9"/><circle cx="169.4" cy="216.7" r="1.9"/><circle cx="262.1" cy="176.7" r="1.9"/><circle cx="306.3" cy="305.2" r="1.9"/><circle cx="182.3" cy="191.0" r="1.9"/><circle cx="306.7" cy="288.8" r="1.9"/><circle cx="190.2" cy="156.9" r="1.9"/><circle cx="118.8" cy="321.3" r="1.9"/><circle cx="286.9" cy="249.6" r="1.9"/><circle cx="239.1" cy="124.1" r="1.9"/><circle cx="120.9" cy="321.7" r="1.9"/><circle cx="178.1" cy="174.4" r="1.9"/><circle cx="286.9" cy="248.2" r="1.9"/><circle cx="262.9" cy="211.3" r="1.9"/><circle cx="165.2" cy="211.7" r="1.9"/><circle cx="199.2" cy="134.6" r="1.9"/><circle cx="239.6" cy="132.1" r="1.9"/><circle cx="233.7" cy="112.8" r="1.9"/><circle cx="157.7" cy="233.9" r="1.9"/><circle cx="296.0" cy="308.3" r="1.9"/><circle cx="172.4" cy="217.8" r="1.9"/><circle cx="293.2" cy="279.8" r="1.9"/><circle cx="295.4" cy="248.8" r="1.9"/><circle cx="192.2" cy="148.6" r="1.9"/><circle cx="308.8" cy="305.4" r="1.9"/><circle cx="156.1" cy="256.5" r="1.9"/><circle cx="234.7" cy="102.3" r="1.9"/><circle cx="259.9" cy="190.1" r="1.9"/><circle cx="328.7" cy="275.0" r="1.9"/><circle cx="116.2" cy="317.1" r="1.9"/><circle cx="286.4" cy="242.9" r="1.9"/><circle cx="231.0" cy="85.1" r="1.9"/><circle cx="285.3" cy="263.2" r="1.9"/><circle cx="120.6" cy="301.9" r="1.9"/><circle cx="301.6" cy="286.9" r="1.9"/><circle cx="171.1" cy="175.8" r="1.9"/><circle cx="235.3" cy="117.4" r="1.9"/><circle cx="302.7" cy="267.3" r="1.9"/><circle cx="154.4" cy="235.3" r="1.9"/><circle cx="303.4" cy="274.0" r="1.9"/><circle cx="247.0" cy="137.5" r="1.9"/><circle cx="224.5" cy="44.7" r="1.9"/><circle cx="265.1" cy="190.1" r="1.9"/><circle cx="316.7" cy="270.5" r="1.9"/><circle cx="142.4" cy="295.1" r="1.9"/><circle cx="114.6" cy="311.8" r="1.9"/><circle cx="157.6" cy="248.4" r="1.9"/><circle cx="212.3" cy="72.5" r="1.9"/><circle cx="172.1" cy="198.6" r="1.9"/><circle cx="175.1" cy="208.4" r="1.9"/><circle cx="244.7" cy="131.7" r="1.9"/><circle cx="287.7" cy="313.1" r="1.9"/><circle cx="282.5" cy="270.5" r="1.9"/><circle cx="172.9" cy="204.6" r="1.9"/><circle cx="281.0" cy="259.6" r="1.9"/><circle cx="237.6" cy="127.4" r="1.9"/><circle cx="181.5" cy="175.5" r="1.9"/><circle cx="277.4" cy="232.5" r="1.9"/><circle cx="172.7" cy="192.2" r="1.9"/><circle cx="261.0" cy="204.4" r="1.9"/><circle cx="147.1" cy="258.4" r="1.9"/><circle cx="160.5" cy="246.0" r="1.9"/><circle cx="117.2" cy="302.6" r="1.9"/><circle cx="214.5" cy="90.6" r="1.9"/><circle cx="116.3" cy="303.6" r="1.9"/><circle cx="247.8" cy="170.5" r="1.9"/><circle cx="228.0" cy="70.0" r="1.9"/><circle cx="253.3" cy="154.2" r="1.9"/><circle cx="136.6" cy="299.5" r="1.9"/><circle cx="273.4" cy="243.4" r="1.9"/><circle cx="211.8" cy="75.5" r="1.9"/><circle cx="122.1" cy="282.6" r="1.9"/><circle cx="188.8" cy="151.8" r="1.9"/><circle cx="161.3" cy="211.2" r="1.9"/><circle cx="293.6" cy="277.4" r="1.9"/><circle cx="272.9" cy="215.3" r="1.9"/><circle cx="297.1" cy="274.9" r="1.9"/><circle cx="143.4" cy="250.2" r="1.9"/><circle cx="144.4" cy="249.0" r="1.9"/><circle cx="168.4" cy="208.7" r="1.9"/><circle cx="321.6" cy="299.7" r="1.9"/><circle cx="169.2" cy="200.1" r="1.9"/><circle cx="162.0" cy="227.8" r="1.9"/><circle cx="180.3" cy="197.5" r="1.9"/><circle cx="149.8" cy="282.0" r="1.9"/><circle cx="191.2" cy="151.4" r="1.9"/><circle cx="196.4" cy="140.0" r="1.9"/><circle cx="143.6" cy="316.6" r="1.9"/><circle cx="161.4" cy="244.3" r="1.9"/><circle cx="197.3" cy="150.8" r="1.9"/><circle cx="361.3" cy="321.0" r="1.9"/><circle cx="157.4" cy="235.2" r="1.9"/><circle cx="147.6" cy="274.5" r="1.9"/><circle cx="189.0" cy="159.4" r="1.9"/><circle cx="273.4" cy="240.3" r="1.9"/><circle cx="209.9" cy="96.1" r="1.9"/><circle cx="293.4" cy="305.8" r="1.9"/><circle cx="118.5" cy="295.1" r="1.9"/><circle cx="135.6" cy="265.1" r="1.9"/><circle cx="123.4" cy="305.2" r="1.9"/><circle cx="307.2" cy="302.3" r="1.9"/><circle cx="289.4" cy="244.0" r="1.9"/><circle cx="283.3" cy="255.4" r="1.9"/><circle cx="265.4" cy="212.0" r="1.9"/><circle cx="72.7" cy="316.5" r="1.9"/><circle cx="167.3" cy="198.1" r="1.9"/><circle cx="225.2" cy="68.4" r="1.9"/><circle cx="132.8" cy="298.5" r="1.9"/><circle cx="297.5" cy="282.7" r="1.9"/><circle cx="128.7" cy="295.5" r="1.9"/><circle cx="326.9" cy="317.7" r="1.9"/><circle cx="164.6" cy="199.6" r="1.9"/><circle cx="313.0" cy="310.5" r="1.9"/><circle cx="128.8" cy="269.2" r="1.9"/><circle cx="112.4" cy="315.9" r="1.9"/><circle cx="213.1" cy="75.3" r="1.9"/><circle cx="236.1" cy="110.2" r="1.9"/><circle cx="298.2" cy="255.8" r="1.9"/><circle cx="281.2" cy="268.0" r="1.9"/><circle cx="301.5" cy="322.4" r="1.9"/><circle cx="146.9" cy="257.4" r="1.9"/><circle cx="306.3" cy="304.6" r="1.9"/><circle cx="321.3" cy="310.2" r="1.9"/><circle cx="278.7" cy="211.8" r="1.9"/><circle cx="318.6" cy="290.9" r="1.9"/><circle cx="278.7" cy="222.4" r="1.9"/><circle cx="237.3" cy="136.9" r="1.9"/><circle cx="156.9" cy="229.8" r="1.9"/><circle cx="148.2" cy="297.5" r="1.9"/><circle cx="171.4" cy="215.7" r="1.9"/><circle cx="321.0" cy="301.1" r="1.9"/><circle cx="260.4" cy="195.5" r="1.9"/><circle cx="189.7" cy="161.0" r="1.9"/><circle cx="233.1" cy="117.5" r="1.9"/><circle cx="258.4" cy="171.2" r="1.9"/><circle cx="146.3" cy="289.9" r="1.9"/><circle cx="133.2" cy="307.0" r="1.9"/><circle cx="132.5" cy="292.1" r="1.9"/><circle cx="253.4" cy="154.8" r="1.9"/><circle cx="277.9" cy="256.5" r="1.9"/><circle cx="266.8" cy="190.8" r="1.9"/><circle cx="178.8" cy="194.1" r="1.9"/><circle cx="91.4" cy="314.4" r="1.9"/><circle cx="254.4" cy="174.9" r="1.9"/><circle cx="193.6" cy="141.9" r="1.9"/><circle cx="259.1" cy="208.5" r="1.9"/><circle cx="152.0" cy="240.7" r="1.9"/><circle cx="207.1" cy="98.4" r="1.9"/><circle cx="107.5" cy="310.7" r="1.9"/><circle cx="161.5" cy="240.8" r="1.9"/><circle cx="229.9" cy="100.0" r="1.9"/><circle cx="232.7" cy="107.4" r="1.9"/><circle cx="212.9" cy="69.2" r="1.9"/><circle cx="187.8" cy="158.2" r="1.9"/><circle cx="355.7" cy="313.4" r="1.9"/><circle cx="144.9" cy="283.3" r="1.9"/><circle cx="296.6" cy="269.7" r="1.9"/><circle cx="316.9" cy="285.0" r="1.9"/><circle cx="172.5" cy="180.1" r="1.9"/><circle cx="250.5" cy="167.9" r="1.9"/><circle cx="167.7" cy="206.9" r="1.9"/><circle cx="236.1" cy="119.1" r="1.9"/><circle cx="111.5" cy="315.1" r="1.9"/><circle cx="222.7" cy="58.3" r="1.9"/><circle cx="319.5" cy="297.1" r="1.9"/><circle cx="128.9" cy="297.6" r="1.9"/><circle cx="269.1" cy="212.9" r="1.9"/><circle cx="271.5" cy="222.5" r="1.9"/><circle cx="163.2" cy="202.1" r="1.9"/><circle cx="174.8" cy="189.1" r="1.9"/><circle cx="289.4" cy="275.6" r="1.9"/><circle cx="318.2" cy="306.9" r="1.9"/><circle cx="317.8" cy="305.2" r="1.9"/><circle cx="269.2" cy="237.8" r="1.9"/><circle cx="285.4" cy="239.1" r="1.9"/><circle cx="266.9" cy="209.5" r="1.9"/><circle cx="250.2" cy="180.3" r="1.9"/><circle cx="205.3" cy="110.1" r="1.9"/><circle cx="235.2" cy="103.2" r="1.9"/><circle cx="233.4" cy="102.3" r="1.9"/><circle cx="286.3" cy="248.5" r="1.9"/><circle cx="247.1" cy="146.5" r="1.9"/><circle cx="244.5" cy="136.5" r="1.9"/><circle cx="297.4" cy="255.5" r="1.9"/><circle cx="146.7" cy="291.6" r="1.9"/><circle cx="286.5" cy="261.3" r="1.9"/><circle cx="130.7" cy="267.0" r="1.9"/><circle cx="145.9" cy="240.3" r="1.9"/><circle cx="277.5" cy="234.0" r="1.9"/><circle cx="200.7" cy="134.2" r="1.9"/><circle cx="276.2" cy="212.9" r="1.9"/><circle cx="172.6" cy="215.5" r="1.9"/><circle cx="182.3" cy="178.9" r="1.9"/><circle cx="141.0" cy="285.0" r="1.9"/><circle cx="212.3" cy="81.4" r="1.9"/><circle cx="293.2" cy="279.3" r="1.9"/><circle cx="198.9" cy="125.7" r="1.9"/><circle cx="134.0" cy="291.8" r="1.9"/><circle cx="264.8" cy="190.9" r="1.9"/><circle cx="125.0" cy="311.0" r="1.9"/><circle cx="249.5" cy="174.9" r="1.9"/><circle cx="199.9" cy="144.2" r="1.9"/><circle cx="313.5" cy="296.0" r="1.9"/><circle cx="301.6" cy="310.6" r="1.9"/><circle cx="267.9" cy="228.0" r="1.9"/><circle cx="278.5" cy="253.9" r="1.9"/><circle cx="150.1" cy="320.3" r="1.9"/><circle cx="224.2" cy="40.4" r="1.9"/><circle cx="322.1" cy="311.8" r="1.9"/><circle cx="309.7" cy="322.5" r="1.9"/><circle cx="297.4" cy="319.2" r="1.9"/><circle cx="221.7" cy="39.6" r="1.9"/><circle cx="192.7" cy="142.2" r="1.9"/><circle cx="214.1" cy="63.2" r="1.9"/><circle cx="165.9" cy="220.0" r="1.9"/><circle cx="128.9" cy="283.0" r="1.9"/><circle cx="256.4" cy="183.0" r="1.9"/><circle cx="238.6" cy="113.1" r="1.9"/><circle cx="199.5" cy="134.1" r="1.9"/><circle cx="349.2" cy="291.5" r="1.9"/><circle cx="244.6" cy="148.4" r="1.9"/><circle cx="259.6" cy="209.3" r="1.9"/><circle cx="188.7" cy="177.1" r="1.9"/><circle cx="236.0" cy="110.9" r="1.9"/><circle cx="143.7" cy="295.9" r="1.9"/><circle cx="119.3" cy="308.6" r="1.9"/><circle cx="159.6" cy="215.8" r="1.9"/><circle cx="180.0" cy="186.9" r="1.9"/><circle cx="183.4" cy="157.1" r="1.9"/><circle cx="248.1" cy="170.8" r="1.9"/><circle cx="213.2" cy="69.8" r="1.9"/><circle cx="183.0" cy="178.9" r="1.9"/><circle cx="262.2" cy="188.8" r="1.9"/><circle cx="306.7" cy="294.9" r="1.9"/><circle cx="129.4" cy="315.1" r="1.9"/><circle cx="168.8" cy="199.6" r="1.9"/><circle cx="155.9" cy="244.8" r="1.9"/><circle cx="133.0" cy="320.4" r="1.9"/><circle cx="277.1" cy="234.3" r="1.9"/><circle cx="126.9" cy="280.5" r="1.9"/><circle cx="276.2" cy="227.5" r="1.9"/><circle cx="184.2" cy="180.9" r="1.9"/><circle cx="274.5" cy="210.9" r="1.9"/><circle cx="264.0" cy="201.4" r="1.9"/><circle cx="168.9" cy="184.2" r="1.9"/><circle cx="209.2" cy="99.6" r="1.9"/><circle cx="267.3" cy="207.7" r="1.9"/><circle cx="278.1" cy="247.4" r="1.9"/><circle cx="265.4" cy="199.1" r="1.9"/><circle cx="284.7" cy="256.8" r="1.9"/><circle cx="141.3" cy="286.8" r="1.9"/><circle cx="253.8" cy="185.1" r="1.9"/><circle cx="143.6" cy="266.4" r="1.9"/><circle cx="103.2" cy="295.0" r="1.9"/><circle cx="125.9" cy="261.0" r="1.9"/><circle cx="160.8" cy="223.7" r="1.9"/><circle cx="288.8" cy="244.8" r="1.9"/><circle cx="196.8" cy="146.8" r="1.9"/><circle cx="98.4" cy="315.5" r="1.9"/><circle cx="170.9" cy="213.2" r="1.9"/><circle cx="90.2" cy="312.0" r="1.9"/><circle cx="139.9" cy="268.6" r="1.9"/><circle cx="234.6" cy="91.0" r="1.9"/><circle cx="63.5" cy="317.9" r="1.9"/><circle cx="242.9" cy="126.0" r="1.9"/><circle cx="171.0" cy="195.1" r="1.9"/><circle cx="316.9" cy="300.1" r="1.9"/><circle cx="289.2" cy="299.4" r="1.9"/><circle cx="157.0" cy="249.0" r="1.9"/><circle cx="209.5" cy="106.4" r="1.9"/><circle cx="256.6" cy="199.6" r="1.9"/><circle cx="312.1" cy="287.2" r="1.9"/><circle cx="286.6" cy="261.2" r="1.9"/><circle cx="268.7" cy="223.8" r="1.9"/><circle cx="118.5" cy="304.4" r="1.9"/><circle cx="261.3" cy="197.6" r="1.9"/><circle cx="296.6" cy="290.1" r="1.9"/><circle cx="146.6" cy="239.2" r="1.9"/><circle cx="206.0" cy="121.0" r="1.9"/><circle cx="266.9" cy="212.9" r="1.9"/><circle cx="211.8" cy="101.0" r="1.9"/><circle cx="252.4" cy="181.4" r="1.9"/><circle cx="237.1" cy="123.9" r="1.9"/><circle cx="226.0" cy="57.2" r="1.9"/><circle cx="116.2" cy="316.6" r="1.9"/><circle cx="148.9" cy="234.8" r="1.9"/><circle cx="127.2" cy="307.8" r="1.9"/><circle cx="273.1" cy="244.2" r="1.9"/><circle cx="325.4" cy="312.1" r="1.9"/><circle cx="308.1" cy="290.5" r="1.9"/><circle cx="266.6" cy="204.8" r="1.9"/><circle cx="181.8" cy="161.1" r="1.9"/><circle cx="129.6" cy="267.7" r="1.9"/><circle cx="193.4" cy="156.6" r="1.9"/><circle cx="127.9" cy="280.6" r="1.9"/><circle cx="257.0" cy="169.3" r="1.9"/><circle cx="183.2" cy="179.4" r="1.9"/><circle cx="146.1" cy="235.9" r="1.9"/><circle cx="158.1" cy="215.2" r="1.9"/><circle cx="210.5" cy="99.8" r="1.9"/><circle cx="255.0" cy="195.5" r="1.9"/><circle cx="176.2" cy="180.8" r="1.9"/><circle cx="115.0" cy="298.4" r="1.9"/><circle cx="176.6" cy="181.1" r="1.9"/><circle cx="133.7" cy="288.5" r="1.9"/><circle cx="154.2" cy="231.8" r="1.9"/><circle cx="350.2" cy="317.0" r="1.9"/><circle cx="157.4" cy="236.2" r="1.9"/><circle cx="288.1" cy="287.5" r="1.9"/><circle cx="207.8" cy="110.9" r="1.9"/><circle cx="154.7" cy="226.2" r="1.9"/><circle cx="237.3" cy="113.4" r="1.9"/><circle cx="185.5" cy="179.1" r="1.9"/><circle cx="225.5" cy="60.2" r="1.9"/><circle cx="247.4" cy="154.4" r="1.9"/><circle cx="104.1" cy="243.0" r="1.9"/><circle cx="280.4" cy="221.7" r="1.9"/><circle cx="135.7" cy="262.1" r="1.9"/><circle cx="266.0" cy="194.1" r="1.9"/><circle cx="216.3" cy="55.9" r="1.9"/><circle cx="165.3" cy="193.0" r="1.9"/><circle cx="240.5" cy="119.3" r="1.9"/><circle cx="135.1" cy="299.6" r="1.9"/><circle cx="202.5" cy="136.9" r="1.9"/><circle cx="270.2" cy="215.3" r="1.9"/><circle cx="234.1" cy="124.1" r="1.9"/><circle cx="128.3" cy="309.5" r="1.9"/><circle cx="121.2" cy="303.6" r="1.9"/><circle cx="174.8" cy="211.0" r="1.9"/><circle cx="161.3" cy="216.2" r="1.9"/><circle cx="149.0" cy="292.7" r="1.9"/><circle cx="268.4" cy="220.2" r="1.9"/><circle cx="229.6" cy="98.8" r="1.9"/><circle cx="200.3" cy="120.5" r="1.9"/><circle cx="136.6" cy="277.7" r="1.9"/><circle cx="140.1" cy="249.8" r="1.9"/><circle cx="240.7" cy="121.4" r="1.9"/><circle cx="137.0" cy="280.3" r="1.9"/><circle cx="311.3" cy="319.8" r="1.9"/><circle cx="167.6" cy="231.6" r="1.9"/><circle cx="302.6" cy="272.4" r="1.9"/><circle cx="263.1" cy="196.2" r="1.9"/><circle cx="125.9" cy="301.3" r="1.9"/><circle cx="285.0" cy="254.4" r="1.9"/><circle cx="163.8" cy="229.9" r="1.9"/><circle cx="268.2" cy="210.0" r="1.9"/><circle cx="247.1" cy="152.4" r="1.9"/><circle cx="116.6" cy="314.1" r="1.9"/><circle cx="263.9" cy="187.3" r="1.9"/><circle cx="120.9" cy="308.6" r="1.9"/><circle cx="163.7" cy="233.8" r="1.9"/><circle cx="176.2" cy="202.2" r="1.9"/><circle cx="269.4" cy="206.9" r="1.9"/><circle cx="189.8" cy="167.0" r="1.9"/><circle cx="306.4" cy="319.3" r="1.9"/><circle cx="199.6" cy="126.5" r="1.9"/><circle cx="289.9" cy="313.1" r="1.9"/><circle cx="191.7" cy="140.7" r="1.9"/><circle cx="168.9" cy="221.5" r="1.9"/><circle cx="143.3" cy="317.7" r="1.9"/><circle cx="122.9" cy="307.1" r="1.9"/><circle cx="133.8" cy="293.2" r="1.9"/><circle cx="127.1" cy="289.6" r="1.9"/><circle cx="232.8" cy="102.0" r="1.9"/><circle cx="180.0" cy="188.7" r="1.9"/><circle cx="134.3" cy="276.4" r="1.9"/><circle cx="111.6" cy="312.3" r="1.9"/><circle cx="202.1" cy="127.1" r="1.9"/><circle cx="272.4" cy="205.2" r="1.9"/><circle cx="179.7" cy="186.6" r="1.9"/><circle cx="183.0" cy="190.0" r="1.9"/><circle cx="291.1" cy="300.8" r="1.9"/><circle cx="185.1" cy="149.3" r="1.9"/><circle cx="151.6" cy="284.3" r="1.9"/><circle cx="328.5" cy="300.0" r="1.9"/><circle cx="202.9" cy="133.7" r="1.9"/><circle cx="176.1" cy="198.8" r="1.9"/><circle cx="181.7" cy="167.1" r="1.9"/><circle cx="236.7" cy="105.5" r="1.9"/><circle cx="296.1" cy="281.6" r="1.9"/><circle cx="240.9" cy="123.4" r="1.9"/><circle cx="304.4" cy="295.0" r="1.9"/><circle cx="223.1" cy="57.3" r="1.9"/><circle cx="139.2" cy="310.6" r="1.9"/><circle cx="171.1" cy="208.5" r="1.9"/><circle cx="160.7" cy="206.2" r="1.9"/><circle cx="297.3" cy="279.4" r="1.9"/><circle cx="320.5" cy="291.5" r="1.9"/><circle cx="105.3" cy="306.5" r="1.9"/><circle cx="181.2" cy="166.3" r="1.9"/><circle cx="99.4" cy="300.0" r="1.9"/><circle cx="360.1" cy="321.1" r="1.9"/><circle cx="152.0" cy="312.1" r="1.9"/><circle cx="264.9" cy="225.9" r="1.9"/><circle cx="248.9" cy="158.4" r="1.9"/><circle cx="148.9" cy="274.3" r="1.9"/><circle cx="209.1" cy="112.9" r="1.9"/><circle cx="146.0" cy="269.8" r="1.9"/><circle cx="160.4" cy="206.1" r="1.9"/><circle cx="194.5" cy="149.5" r="1.9"/><circle cx="171.7" cy="211.2" r="1.9"/><circle cx="205.6" cy="103.9" r="1.9"/><circle cx="151.6" cy="243.6" r="1.9"/><circle cx="147.8" cy="244.3" r="1.9"/><circle cx="280.2" cy="267.3" r="1.9"/><circle cx="280.3" cy="232.6" r="1.9"/><circle cx="218.9" cy="66.4" r="1.9"/><circle cx="123.3" cy="281.7" r="1.9"/><circle cx="157.5" cy="244.3" r="1.9"/><circle cx="269.7" cy="201.0" r="1.9"/><circle cx="301.1" cy="304.8" r="1.9"/><circle cx="186.2" cy="161.5" r="1.9"/><circle cx="136.3" cy="320.2" r="1.9"/><circle cx="253.8" cy="171.7" r="1.9"/><circle cx="201.0" cy="135.5" r="1.9"/><circle cx="187.6" cy="165.3" r="1.9"/><circle cx="289.4" cy="282.1" r="1.9"/><circle cx="267.2" cy="216.6" r="1.9"/><circle cx="229.0" cy="72.3" r="1.9"/><circle cx="242.0" cy="144.5" r="1.9"/><circle cx="180.2" cy="197.5" r="1.9"/><circle cx="320.0" cy="322.0" r="1.9"/><circle cx="239.1" cy="126.4" r="1.9"/><circle cx="326.1" cy="319.4" r="1.9"/><circle cx="211.2" cy="103.1" r="1.9"/><circle cx="179.7" cy="165.7" r="1.9"/><circle cx="148.7" cy="252.6" r="1.9"/><circle cx="271.2" cy="229.3" r="1.9"/><circle cx="174.5" cy="190.7" r="1.9"/><circle cx="288.1" cy="248.2" r="1.9"/><circle cx="270.2" cy="210.8" r="1.9"/><circle cx="246.6" cy="160.0" r="1.9"/><circle cx="296.3" cy="283.6" r="1.9"/><circle cx="257.0" cy="193.4" r="1.9"/><circle cx="214.8" cy="72.6" r="1.9"/><circle cx="268.1" cy="218.7" r="1.9"/><circle cx="154.6" cy="255.9" r="1.9"/><circle cx="143.0" cy="275.5" r="1.9"/><circle cx="172.2" cy="207.5" r="1.9"/><circle cx="303.7" cy="319.4" r="1.9"/><circle cx="155.0" cy="274.9" r="1.9"/><circle cx="203.0" cy="122.6" r="1.9"/><circle cx="228.1" cy="78.2" r="1.9"/><circle cx="144.8" cy="271.8" r="1.9"/><circle cx="257.4" cy="163.9" r="1.9"/><circle cx="194.6" cy="135.5" r="1.9"/><circle cx="206.2" cy="109.8" r="1.9"/><circle cx="304.9" cy="309.4" r="1.9"/><circle cx="174.4" cy="192.9" r="1.9"/><circle cx="300.5" cy="271.2" r="1.9"/><circle cx="308.7" cy="280.8" r="1.9"/><circle cx="185.3" cy="162.0" r="1.9"/><circle cx="166.1" cy="217.6" r="1.9"/><circle cx="191.9" cy="141.8" r="1.9"/><circle cx="268.9" cy="205.7" r="1.9"/><circle cx="156.2" cy="265.5" r="1.9"/><circle cx="302.8" cy="292.7" r="1.9"/><circle cx="194.9" cy="145.8" r="1.9"/><circle cx="129.8" cy="318.8" r="1.9"/><circle cx="246.6" cy="146.1" r="1.9"/><circle cx="260.3" cy="168.1" r="1.9"/><circle cx="319.0" cy="316.8" r="1.9"/><circle cx="282.8" cy="250.1" r="1.9"/><circle cx="249.6" cy="145.7" r="1.9"/><circle cx="300.4" cy="322.6" r="1.9"/><circle cx="204.3" cy="108.7" r="1.9"/><circle cx="178.5" cy="181.9" r="1.9"/><circle cx="123.8" cy="311.9" r="1.9"/><circle cx="158.1" cy="230.1" r="1.9"/><circle cx="176.2" cy="167.3" r="1.9"/><circle cx="133.6" cy="300.4" r="1.9"/><circle cx="262.1" cy="202.3" r="1.9"/><circle cx="128.7" cy="281.3" r="1.9"/><circle cx="313.0" cy="307.7" r="1.9"/><circle cx="171.7" cy="195.6" r="1.9"/><circle cx="303.2" cy="311.3" r="1.9"/><circle cx="205.6" cy="122.1" r="1.9"/><circle cx="306.7" cy="315.7" r="1.9"/><circle cx="154.2" cy="224.4" r="1.9"/><circle cx="136.5" cy="288.7" r="1.9"/><circle cx="163.2" cy="205.4" r="1.9"/><circle cx="203.0" cy="133.7" r="1.9"/><circle cx="304.7" cy="309.3" r="1.9"/><circle cx="182.5" cy="181.5" r="1.9"/><circle cx="324.9" cy="297.5" r="1.9"/><circle cx="232.8" cy="108.2" r="1.9"/><circle cx="113.6" cy="296.3" r="1.9"/><circle cx="282.9" cy="222.2" r="1.9"/><circle cx="312.9" cy="282.8" r="1.9"/><circle cx="139.0" cy="316.9" r="1.9"/><circle cx="256.6" cy="181.5" r="1.9"/><circle cx="167.9" cy="186.9" r="1.9"/><circle cx="152.0" cy="272.6" r="1.9"/><circle cx="186.8" cy="162.2" r="1.9"/><circle cx="239.5" cy="129.2" r="1.9"/><circle cx="284.3" cy="262.7" r="1.9"/><circle cx="156.6" cy="222.2" r="1.9"/><circle cx="281.4" cy="240.5" r="1.9"/><circle cx="136.7" cy="264.3" r="1.9"/><circle cx="258.0" cy="197.4" r="1.9"/><circle cx="292.2" cy="305.5" r="1.9"/><circle cx="310.4" cy="314.5" r="1.9"/><circle cx="294.6" cy="268.8" r="1.9"/><circle cx="252.7" cy="157.8" r="1.9"/><circle cx="257.7" cy="185.8" r="1.9"/><circle cx="301.9" cy="291.5" r="1.9"/><circle cx="198.1" cy="136.0" r="1.9"/><circle cx="134.0" cy="282.7" r="1.9"/><circle cx="178.6" cy="187.1" r="1.9"/><circle cx="148.9" cy="234.4" r="1.9"/><circle cx="247.6" cy="164.1" r="1.9"/><circle cx="135.5" cy="275.6" r="1.9"/><circle cx="166.9" cy="196.9" r="1.9"/><circle cx="223.5" cy="62.8" r="1.9"/><circle cx="290.1" cy="306.0" r="1.9"/><circle cx="308.8" cy="281.4" r="1.9"/><circle cx="236.0" cy="128.7" r="1.9"/><circle cx="172.5" cy="179.0" r="1.9"/><circle cx="179.4" cy="177.7" r="1.9"/><circle cx="157.7" cy="237.7" r="1.9"/><circle cx="275.0" cy="232.2" r="1.9"/><circle cx="185.7" cy="155.2" r="1.9"/><circle cx="247.8" cy="158.9" r="1.9"/><circle cx="175.6" cy="176.6" r="1.9"/><circle cx="199.6" cy="134.5" r="1.9"/><circle cx="269.8" cy="196.8" r="1.9"/><circle cx="292.6" cy="247.7" r="1.9"/><circle cx="132.6" cy="274.4" r="1.9"/><circle cx="113.9" cy="290.0" r="1.9"/><circle cx="268.2" cy="222.2" r="1.9"/><circle cx="278.9" cy="254.8" r="1.9"/><circle cx="260.6" cy="181.1" r="1.9"/><circle cx="266.4" cy="235.1" r="1.9"/><circle cx="257.6" cy="178.8" r="1.9"/><circle cx="275.7" cy="206.2" r="1.9"/><circle cx="283.6" cy="238.7" r="1.9"/><circle cx="271.6" cy="215.3" r="1.9"/><circle cx="275.0" cy="247.0" r="1.9"/><circle cx="162.2" cy="236.9" r="1.9"/><circle cx="201.6" cy="145.5" r="1.9"/><circle cx="214.6" cy="70.6" r="1.9"/><circle cx="275.9" cy="231.5" r="1.9"/><circle cx="292.1" cy="277.3" r="1.9"/><circle cx="184.2" cy="165.2" r="1.9"/><circle cx="215.5" cy="60.2" r="1.9"/><circle cx="244.8" cy="157.9" r="1.9"/><circle cx="225.6" cy="82.0" r="1.9"/><circle cx="309.2" cy="281.2" r="1.9"/><circle cx="170.7" cy="212.0" r="1.9"/><circle cx="152.0" cy="264.4" r="1.9"/><circle cx="327.7" cy="293.5" r="1.9"/><circle cx="121.2" cy="306.8" r="1.9"/><circle cx="126.1" cy="307.1" r="1.9"/><circle cx="258.1" cy="169.1" r="1.9"/><circle cx="316.5" cy="294.4" r="1.9"/><circle cx="176.8" cy="171.3" r="1.9"/><circle cx="212.2" cy="105.5" r="1.9"/><circle cx="197.8" cy="142.1" r="1.9"/><circle cx="149.9" cy="275.4" r="1.9"/><circle cx="136.5" cy="302.8" r="1.9"/><circle cx="308.3" cy="287.7" r="1.9"/><circle cx="225.3" cy="81.7" r="1.9"/><circle cx="206.6" cy="107.7" r="1.9"/><circle cx="145.7" cy="295.0" r="1.9"/><circle cx="169.4" cy="195.8" r="1.9"/><circle cx="116.4" cy="304.6" r="1.9"/><circle cx="279.6" cy="212.6" r="1.9"/><circle cx="207.8" cy="99.7" r="1.9"/><circle cx="300.5" cy="316.4" r="1.9"/><circle cx="293.2" cy="262.8" r="1.9"/><circle cx="323.1" cy="319.5" r="1.9"/><circle cx="307.8" cy="308.2" r="1.9"/><circle cx="248.5" cy="152.3" r="1.9"/><circle cx="283.4" cy="278.6" r="1.9"/><circle cx="95.2" cy="307.0" r="1.9"/><circle cx="306.3" cy="290.5" r="1.9"/><circle cx="130.4" cy="282.8" r="1.9"/><circle cx="249.6" cy="147.7" r="1.9"/><circle cx="201.4" cy="115.8" r="1.9"/><circle cx="153.7" cy="273.6" r="1.9"/><circle cx="249.1" cy="154.8" r="1.9"/><circle cx="280.7" cy="235.4" r="1.9"/><circle cx="328.0" cy="317.8" r="1.9"/><circle cx="86.4" cy="309.2" r="1.9"/><circle cx="143.3" cy="261.3" r="1.9"/><circle cx="153.2" cy="272.2" r="1.9"/><circle cx="276.5" cy="256.4" r="1.9"/><circle cx="178.2" cy="167.8" r="1.9"/><circle cx="150.4" cy="251.1" r="1.9"/><circle cx="204.8" cy="100.8" r="1.9"/><circle cx="173.6" cy="184.3" r="1.9"/><circle cx="278.8" cy="236.8" r="1.9"/><circle cx="209.6" cy="100.3" r="1.9"/><circle cx="236.4" cy="103.9" r="1.9"/><circle cx="271.0" cy="202.6" r="1.9"/><circle cx="189.5" cy="154.0" r="1.9"/><circle cx="250.0" cy="154.6" r="1.9"/><circle cx="212.7" cy="95.5" r="1.9"/><circle cx="267.4" cy="208.8" r="1.9"/><circle cx="149.1" cy="275.7" r="1.9"/><circle cx="246.1" cy="158.2" r="1.9"/><circle cx="316.0" cy="321.0" r="1.9"/><circle cx="311.4" cy="309.4" r="1.9"/><circle cx="208.7" cy="85.5" r="1.9"/><circle cx="238.0" cy="120.9" r="1.9"/><circle cx="320.4" cy="320.2" r="1.9"/><circle cx="276.7" cy="210.0" r="1.9"/><circle cx="212.2" cy="84.7" r="1.9"/><circle cx="283.8" cy="227.0" r="1.9"/><circle cx="250.8" cy="156.4" r="1.9"/><circle cx="287.6" cy="308.2" r="1.9"/><circle cx="310.4" cy="284.8" r="1.9"/><circle cx="161.6" cy="215.6" r="1.9"/><circle cx="291.4" cy="266.8" r="1.9"/><circle cx="134.2" cy="274.2" r="1.9"/><circle cx="155.2" cy="231.7" r="1.9"/><circle cx="212.8" cy="69.8" r="1.9"/><circle cx="164.1" cy="236.0" r="1.9"/><circle cx="288.0" cy="267.4" r="1.9"/><circle cx="294.5" cy="284.5" r="1.9"/><circle cx="264.5" cy="214.5" r="1.9"/><circle cx="141.3" cy="283.0" r="1.9"/><circle cx="269.4" cy="204.4" r="1.9"/><circle cx="157.4" cy="240.7" r="1.9"/><circle cx="161.3" cy="229.3" r="1.9"/><circle cx="266.2" cy="231.3" r="1.9"/><circle cx="149.8" cy="314.1" r="1.9"/><circle cx="86.8" cy="303.6" r="1.9"/><circle cx="252.3" cy="161.4" r="1.9"/><circle cx="299.7" cy="282.2" r="1.9"/><circle cx="293.8" cy="298.8" r="1.9"/><circle cx="112.0" cy="289.5" r="1.9"/><circle cx="254.1" cy="174.9" r="1.9"/><circle cx="161.7" cy="231.1" r="1.9"/><circle cx="365.0" cy="313.0" r="1.9"/><circle cx="291.1" cy="246.7" r="1.9"/><circle cx="104.4" cy="290.5" r="1.9"/><circle cx="121.6" cy="286.6" r="1.9"/><circle cx="214.1" cy="90.4" r="1.9"/><circle cx="192.8" cy="140.4" r="1.9"/><circle cx="169.0" cy="188.6" r="1.9"/><circle cx="321.8" cy="303.7" r="1.9"/><circle cx="209.7" cy="89.2" r="1.9"/><circle cx="134.6" cy="289.3" r="1.9"/><circle cx="287.3" cy="314.0" r="1.9"/><circle cx="143.7" cy="273.1" r="1.9"/><circle cx="315.6" cy="314.0" r="1.9"/><circle cx="331.3" cy="313.0" r="1.9"/><circle cx="181.9" cy="163.9" r="1.9"/><circle cx="208.0" cy="91.3" r="1.9"/><circle cx="260.4" cy="208.3" r="1.9"/><circle cx="137.9" cy="283.2" r="1.9"/><circle cx="216.9" cy="57.7" r="1.9"/><circle cx="273.2" cy="224.7" r="1.9"/><circle cx="210.1" cy="78.4" r="1.9"/><circle cx="138.6" cy="272.4" r="1.9"/><circle cx="127.8" cy="295.5" r="1.9"/><circle cx="308.3" cy="310.5" r="1.9"/><circle cx="275.2" cy="215.3" r="1.9"/><circle cx="267.4" cy="212.0" r="1.9"/><circle cx="204.3" cy="118.1" r="1.9"/><circle cx="288.3" cy="270.5" r="1.9"/><circle cx="129.7" cy="290.3" r="1.9"/><circle cx="137.7" cy="319.1" r="1.9"/><circle cx="293.8" cy="298.7" r="1.9"/><circle cx="205.3" cy="107.9" r="1.9"/><circle cx="142.9" cy="302.1" r="1.9"/><circle cx="182.6" cy="178.9" r="1.9"/><circle cx="359.5" cy="307.8" r="1.9"/><circle cx="113.1" cy="319.7" r="1.9"/><circle cx="258.1" cy="206.0" r="1.9"/><circle cx="122.1" cy="318.1" r="1.9"/><circle cx="147.5" cy="271.0" r="1.9"/><circle cx="153.6" cy="263.0" r="1.9"/><circle cx="291.4" cy="279.8" r="1.9"/><circle cx="314.8" cy="286.2" r="1.9"/><circle cx="277.9" cy="241.5" r="1.9"/><circle cx="181.6" cy="193.0" r="1.9"/><circle cx="126.2" cy="285.5" r="1.9"/><circle cx="269.9" cy="213.1" r="1.9"/><circle cx="118.9" cy="309.1" r="1.9"/><circle cx="180.9" cy="185.4" r="1.9"/><circle cx="175.9" cy="191.8" r="1.9"/><circle cx="237.7" cy="114.9" r="1.9"/><circle cx="187.6" cy="176.3" r="1.9"/><circle cx="252.2" cy="165.6" r="1.9"/><circle cx="125.7" cy="277.9" r="1.9"/><circle cx="265.5" cy="230.3" r="1.9"/><circle cx="109.8" cy="295.0" r="1.9"/><circle cx="183.9" cy="183.5" r="1.9"/><circle cx="267.3" cy="213.6" r="1.9"/><circle cx="276.2" cy="251.0" r="1.9"/><circle cx="312.6" cy="321.4" r="1.9"/><circle cx="203.2" cy="127.6" r="1.9"/><circle cx="306.5" cy="286.3" r="1.9"/><circle cx="287.6" cy="250.6" r="1.9"/><circle cx="137.0" cy="274.0" r="1.9"/><circle cx="196.2" cy="158.5" r="1.9"/><circle cx="205.5" cy="114.9" r="1.9"/><circle cx="143.4" cy="315.9" r="1.9"/><circle cx="143.5" cy="247.8" r="1.9"/><circle cx="154.1" cy="228.9" r="1.9"/><circle cx="245.8" cy="132.9" r="1.9"/><circle cx="331.1" cy="301.5" r="1.9"/><circle cx="149.8" cy="277.4" r="1.9"/><circle cx="147.3" cy="276.0" r="1.9"/><circle cx="184.3" cy="178.7" r="1.9"/><circle cx="227.8" cy="91.1" r="1.9"/><circle cx="295.1" cy="295.2" r="1.9"/><circle cx="127.3" cy="279.7" r="1.9"/><circle cx="231.3" cy="102.9" r="1.9"/><circle cx="135.9" cy="268.9" r="1.9"/><circle cx="148.5" cy="291.1" r="1.9"/><circle cx="172.8" cy="207.5" r="1.9"/><circle cx="207.4" cy="97.5" r="1.9"/><circle cx="320.2" cy="315.6" r="1.9"/><circle cx="296.0" cy="255.9" r="1.9"/><circle cx="370.7" cy="320.0" r="1.9"/><circle cx="293.3" cy="226.0" r="1.9"/><circle cx="285.5" cy="250.6" r="1.9"/><circle cx="215.4" cy="46.9" r="1.9"/><circle cx="272.1" cy="199.2" r="1.9"/><circle cx="128.4" cy="279.6" r="1.9"/><circle cx="325.8" cy="306.1" r="1.9"/><circle cx="304.9" cy="269.5" r="1.9"/><circle cx="265.7" cy="223.0" r="1.9"/><circle cx="198.8" cy="126.9" r="1.9"/><circle cx="234.1" cy="100.9" r="1.9"/><circle cx="210.3" cy="82.8" r="1.9"/><circle cx="143.9" cy="271.2" r="1.9"/><circle cx="354.8" cy="320.2" r="1.9"/><circle cx="80.6" cy="314.7" r="1.9"/><circle cx="143.3" cy="275.7" r="1.9"/><circle cx="142.9" cy="216.0" r="1.9"/><circle cx="168.9" cy="201.7" r="1.9"/><circle cx="171.3" cy="215.0" r="1.9"/><circle cx="243.2" cy="135.9" r="1.9"/><circle cx="131.5" cy="279.6" r="1.9"/><circle cx="302.0" cy="273.6" r="1.9"/><circle cx="159.0" cy="235.7" r="1.9"/><circle cx="141.0" cy="297.0" r="1.9"/><circle cx="159.5" cy="241.7" r="1.9"/><circle cx="191.6" cy="156.6" r="1.9"/><circle cx="230.6" cy="88.6" r="1.9"/><circle cx="243.5" cy="149.8" r="1.9"/><circle cx="149.9" cy="299.8" r="1.9"/><circle cx="184.0" cy="184.4" r="1.9"/><circle cx="304.7" cy="299.9" r="1.9"/><circle cx="150.2" cy="247.5" r="1.9"/><circle cx="180.2" cy="165.6" r="1.9"/><circle cx="290.3" cy="299.0" r="1.9"/><circle cx="77.9" cy="309.8" r="1.9"/><circle cx="283.4" cy="260.9" r="1.9"/><circle cx="176.7" cy="205.3" r="1.9"/><circle cx="252.0" cy="187.9" r="1.9"/><circle cx="224.8" cy="61.1" r="1.9"/><circle cx="270.4" cy="215.1" r="1.9"/><circle cx="281.3" cy="231.9" r="1.9"/><circle cx="181.7" cy="179.5" r="1.9"/><circle cx="178.1" cy="191.8" r="1.9"/><circle cx="285.6" cy="295.7" r="1.9"/><circle cx="182.4" cy="179.3" r="1.9"/><circle cx="134.9" cy="306.0" r="1.9"/><circle cx="181.7" cy="186.5" r="1.9"/><circle cx="188.3" cy="157.0" r="1.9"/><circle cx="241.9" cy="136.2" r="1.9"/><circle cx="187.5" cy="178.7" r="1.9"/><circle cx="299.8" cy="294.3" r="1.9"/><circle cx="293.2" cy="293.0" r="1.9"/><circle cx="255.3" cy="183.5" r="1.9"/><circle cx="315.1" cy="287.6" r="1.9"/><circle cx="112.0" cy="321.2" r="1.9"/><circle cx="239.0" cy="113.4" r="1.9"/><circle cx="292.5" cy="289.7" r="1.9"/><circle cx="161.0" cy="237.8" r="1.9"/><circle cx="234.6" cy="105.1" r="1.9"/><circle cx="254.1" cy="168.9" r="1.9"/><circle cx="160.3" cy="238.7" r="1.9"/><circle cx="271.7" cy="220.3" r="1.9"/><circle cx="161.1" cy="224.6" r="1.9"/><circle cx="207.9" cy="91.3" r="1.9"/><circle cx="262.1" cy="190.0" r="1.9"/><circle cx="162.9" cy="213.0" r="1.9"/><circle cx="147.5" cy="290.8" r="1.9"/><circle cx="146.0" cy="288.3" r="1.9"/><circle cx="270.7" cy="200.6" r="1.9"/><circle cx="159.7" cy="246.8" r="1.9"/><circle cx="294.1" cy="266.2" r="1.9"/><circle cx="117.9" cy="262.5" r="1.9"/><circle cx="164.2" cy="225.6" r="1.9"/><circle cx="106.4" cy="314.7" r="1.9"/><circle cx="265.4" cy="185.6" r="1.9"/><circle cx="191.0" cy="161.3" r="1.9"/><circle cx="295.5" cy="241.0" r="1.9"/><circle cx="248.6" cy="161.6" r="1.9"/><circle cx="302.3" cy="268.7" r="1.9"/><circle cx="241.4" cy="130.0" r="1.9"/><circle cx="241.0" cy="145.6" r="1.9"/><circle cx="134.8" cy="262.1" r="1.9"/><circle cx="102.4" cy="321.0" r="1.9"/><circle cx="294.9" cy="317.9" r="1.9"/><circle cx="95.2" cy="313.1" r="1.9"/><circle cx="166.0" cy="222.6" r="1.9"/><circle cx="301.5" cy="301.9" r="1.9"/><circle cx="154.4" cy="259.9" r="1.9"/><circle cx="254.7" cy="192.5" r="1.9"/><circle cx="271.9" cy="237.5" r="1.9"/><circle cx="201.5" cy="133.2" r="1.9"/><circle cx="115.6" cy="308.5" r="1.9"/><circle cx="121.6" cy="313.2" r="1.9"/><circle cx="244.4" cy="149.0" r="1.9"/><circle cx="138.5" cy="260.3" r="1.9"/><circle cx="309.3" cy="284.0" r="1.9"/><circle cx="340.9" cy="316.5" r="1.9"/><circle cx="100.4" cy="309.5" r="1.9"/><circle cx="138.6" cy="309.5" r="1.9"/><circle cx="165.9" cy="213.9" r="1.9"/><circle cx="147.2" cy="263.2" r="1.9"/><circle cx="152.0" cy="254.8" r="1.9"/><circle cx="186.8" cy="167.7" r="1.9"/><circle cx="205.6" cy="122.5" r="1.9"/><circle cx="305.5" cy="279.0" r="1.9"/><circle cx="231.3" cy="98.0" r="1.9"/><circle cx="169.3" cy="197.8" r="1.9"/><circle cx="289.7" cy="265.5" r="1.9"/><circle cx="149.2" cy="302.0" r="1.9"/><circle cx="130.8" cy="283.9" r="1.9"/><circle cx="231.0" cy="104.3" r="1.9"/><circle cx="165.9" cy="227.9" r="1.9"/><circle cx="317.8" cy="300.9" r="1.9"/><circle cx="89.4" cy="305.3" r="1.9"/><circle cx="236.2" cy="118.4" r="1.9"/><circle cx="182.0" cy="188.5" r="1.9"/><circle cx="294.8" cy="300.6" r="1.9"/><circle cx="283.9" cy="257.9" r="1.9"/><circle cx="82.2" cy="304.0" r="1.9"/><circle cx="174.4" cy="215.4" r="1.9"/><circle cx="187.6" cy="152.0" r="1.9"/><circle cx="187.6" cy="146.5" r="1.9"/><circle cx="199.6" cy="143.2" r="1.9"/><circle cx="151.9" cy="268.7" r="1.9"/><circle cx="144.9" cy="269.3" r="1.9"/><circle cx="307.7" cy="259.5" r="1.9"/><circle cx="126.7" cy="272.8" r="1.9"/><circle cx="254.1" cy="169.9" r="1.9"/><circle cx="199.5" cy="126.3" r="1.9"/><circle cx="116.9" cy="312.2" r="1.9"/><circle cx="265.0" cy="184.2" r="1.9"/><circle cx="217.7" cy="70.7" r="1.9"/><circle cx="144.0" cy="297.8" r="1.9"/><circle cx="59.5" cy="315.9" r="1.9"/><circle cx="269.3" cy="218.8" r="1.9"/><circle cx="178.6" cy="192.2" r="1.9"/><circle cx="311.8" cy="305.0" r="1.9"/><circle cx="139.6" cy="318.7" r="1.9"/><circle cx="276.8" cy="223.3" r="1.9"/><circle cx="256.3" cy="196.8" r="1.9"/><circle cx="211.1" cy="102.8" r="1.9"/><circle cx="112.7" cy="308.2" r="1.9"/><circle cx="270.3" cy="241.1" r="1.9"/><circle cx="140.3" cy="264.9" r="1.9"/><circle cx="146.2" cy="235.9" r="1.9"/><circle cx="130.7" cy="290.4" r="1.9"/><circle cx="167.9" cy="229.9" r="1.9"/><circle cx="210.6" cy="108.4" r="1.9"/><circle cx="299.7" cy="286.3" r="1.9"/><circle cx="122.2" cy="317.2" r="1.9"/><circle cx="259.6" cy="177.6" r="1.9"/><circle cx="158.9" cy="223.0" r="1.9"/><circle cx="247.4" cy="146.2" r="1.9"/><circle cx="157.2" cy="254.0" r="1.9"/><circle cx="140.9" cy="231.0" r="1.9"/><circle cx="110.1" cy="316.7" r="1.9"/><circle cx="146.8" cy="243.6" r="1.9"/><circle cx="154.3" cy="274.1" r="1.9"/><circle cx="152.9" cy="251.9" r="1.9"/><circle cx="281.4" cy="225.2" r="1.9"/><circle cx="162.1" cy="226.5" r="1.9"/><circle cx="125.5" cy="307.5" r="1.9"/><circle cx="286.2" cy="295.0" r="1.9"/><circle cx="264.3" cy="222.0" r="1.9"/><circle cx="131.4" cy="317.5" r="1.9"/><circle cx="327.3" cy="279.5" r="1.9"/><circle cx="195.9" cy="137.6" r="1.9"/><circle cx="227.1" cy="55.7" r="1.9"/><circle cx="153.4" cy="270.5" r="1.9"/><circle cx="139.8" cy="257.8" r="1.9"/><circle cx="187.5" cy="155.3" r="1.9"/><circle cx="209.0" cy="111.5" r="1.9"/><circle cx="260.0" cy="209.7" r="1.9"/><circle cx="299.6" cy="305.3" r="1.9"/><circle cx="294.0" cy="259.2" r="1.9"/><circle cx="151.6" cy="267.3" r="1.9"/><circle cx="130.0" cy="286.0" r="1.9"/><circle cx="303.3" cy="291.3" r="1.9"/><circle cx="262.0" cy="183.8" r="1.9"/><circle cx="253.6" cy="174.5" r="1.9"/><circle cx="283.9" cy="258.6" r="1.9"/><circle cx="234.8" cy="103.7" r="1.9"/><circle cx="229.9" cy="100.5" r="1.9"/><circle cx="151.2" cy="293.5" r="1.9"/><circle cx="169.2" cy="199.4" r="1.9"/><circle cx="124.1" cy="291.1" r="1.9"/><circle cx="269.8" cy="203.4" r="1.9"/><circle cx="143.6" cy="262.8" r="1.9"/><circle cx="294.9" cy="294.3" r="1.9"/><circle cx="281.8" cy="265.9" r="1.9"/><circle cx="275.7" cy="229.2" r="1.9"/><circle cx="298.5" cy="294.0" r="1.9"/><circle cx="264.4" cy="219.3" r="1.9"/><circle cx="287.2" cy="279.3" r="1.9"/><circle cx="216.2" cy="44.0" r="1.9"/><circle cx="141.4" cy="306.8" r="1.9"/><circle cx="251.0" cy="155.6" r="1.9"/><circle cx="137.7" cy="285.6" r="1.9"/><circle cx="282.7" cy="232.3" r="1.9"/><circle cx="200.2" cy="146.6" r="1.9"/><circle cx="130.8" cy="272.3" r="1.9"/><circle cx="239.3" cy="114.1" r="1.9"/><circle cx="175.8" cy="176.3" r="1.9"/><circle cx="295.0" cy="270.6" r="1.9"/><circle cx="202.1" cy="135.5" r="1.9"/><circle cx="345.0" cy="321.5" r="1.9"/><circle cx="298.5" cy="296.1" r="1.9"/><circle cx="301.2" cy="272.6" r="1.9"/><circle cx="178.9" cy="163.5" r="1.9"/><circle cx="214.7" cy="82.1" r="1.9"/><circle cx="284.7" cy="233.5" r="1.9"/><circle cx="158.8" cy="244.8" r="1.9"/><circle cx="123.2" cy="292.8" r="1.9"/><circle cx="169.0" cy="197.8" r="1.9"/><circle cx="235.6" cy="96.6" r="1.9"/><circle cx="142.1" cy="269.0" r="1.9"/><circle cx="296.7" cy="264.0" r="1.9"/><circle cx="260.0" cy="185.5" r="1.9"/><circle cx="176.4" cy="180.6" r="1.9"/><circle cx="246.8" cy="156.7" r="1.9"/><circle cx="249.8" cy="173.5" r="1.9"/><circle cx="142.8" cy="252.3" r="1.9"/><circle cx="120.4" cy="261.5" r="1.9"/><circle cx="314.7" cy="310.7" r="1.9"/><circle cx="215.8" cy="75.6" r="1.9"/><circle cx="259.6" cy="204.8" r="1.9"/><circle cx="248.6" cy="175.9" r="1.9"/><circle cx="157.4" cy="228.3" r="1.9"/><circle cx="257.5" cy="186.5" r="1.9"/><circle cx="172.3" cy="204.5" r="1.9"/><circle cx="127.3" cy="296.3" r="1.9"/><circle cx="259.5" cy="180.9" r="1.9"/><circle cx="292.6" cy="289.7" r="1.9"/><circle cx="114.7" cy="305.2" r="1.9"/><circle cx="226.1" cy="60.8" r="1.9"/><circle cx="269.3" cy="207.8" r="1.9"/><circle cx="132.7" cy="313.5" r="1.9"/><circle cx="116.5" cy="261.5" r="1.9"/><circle cx="299.3" cy="282.2" r="1.9"/><circle cx="250.6" cy="163.1" r="1.9"/><circle cx="244.5" cy="149.1" r="1.9"/><circle cx="301.3" cy="307.8" r="1.9"/><circle cx="234.2" cy="114.2" r="1.9"/><circle cx="147.6" cy="259.1" r="1.9"/><circle cx="116.5" cy="310.0" r="1.9"/><circle cx="253.9" cy="182.2" r="1.9"/><circle cx="267.6" cy="235.7" r="1.9"/><circle cx="294.5" cy="295.0" r="1.9"/><circle cx="238.4" cy="131.4" r="1.9"/><circle cx="203.7" cy="112.0" r="1.9"/><circle cx="160.5" cy="205.9" r="1.9"/><circle cx="303.5" cy="314.1" r="1.9"/><circle cx="122.3" cy="319.8" r="1.9"/><circle cx="159.4" cy="235.1" r="1.9"/><circle cx="207.5" cy="91.4" r="1.9"/><circle cx="139.5" cy="272.0" r="1.9"/><circle cx="154.4" cy="242.8" r="1.9"/><circle cx="284.5" cy="248.3" r="1.9"/><circle cx="275.5" cy="229.1" r="1.9"/><circle cx="178.4" cy="186.1" r="1.9"/><circle cx="282.4" cy="271.1" r="1.9"/><circle cx="246.0" cy="150.7" r="1.9"/><circle cx="260.7" cy="203.1" r="1.9"/><circle cx="280.8" cy="230.5" r="1.9"/><circle cx="135.4" cy="310.7" r="1.9"/><circle cx="216.7" cy="51.8" r="1.9"/><circle cx="120.4" cy="314.2" r="1.9"/><circle cx="223.6" cy="62.3" r="1.9"/><circle cx="245.4" cy="163.8" r="1.9"/><circle cx="261.9" cy="176.2" r="1.9"/><circle cx="275.7" cy="234.4" r="1.9"/><circle cx="118.5" cy="320.0" r="1.9"/><circle cx="161.6" cy="209.9" r="1.9"/><circle cx="264.9" cy="200.2" r="1.9"/><circle cx="248.1" cy="146.2" r="1.9"/><circle cx="143.2" cy="254.5" r="1.9"/><circle cx="201.7" cy="121.6" r="1.9"/><circle cx="147.8" cy="276.7" r="1.9"/><circle cx="283.6" cy="257.4" r="1.9"/><circle cx="291.9" cy="269.2" r="1.9"/><circle cx="159.1" cy="224.0" r="1.9"/><circle cx="326.3" cy="316.3" r="1.9"/><circle cx="286.0" cy="280.2" r="1.9"/><circle cx="156.0" cy="227.8" r="1.9"/><circle cx="281.1" cy="223.8" r="1.9"/><circle cx="323.5" cy="320.2" r="1.9"/><circle cx="240.7" cy="133.1" r="1.9"/><circle cx="231.6" cy="95.8" r="1.9"/><circle cx="141.0" cy="239.5" r="1.9"/><circle cx="252.6" cy="184.5" r="1.9"/><circle cx="212.6" cy="89.0" r="1.9"/><circle cx="325.4" cy="315.6" r="1.9"/><circle cx="299.5" cy="283.1" r="1.9"/><circle cx="239.6" cy="125.8" r="1.9"/><circle cx="164.2" cy="216.1" r="1.9"/><circle cx="203.7" cy="111.3" r="1.9"/><circle cx="251.1" cy="145.9" r="1.9"/><circle cx="240.5" cy="142.3" r="1.9"/><circle cx="144.8" cy="267.8" r="1.9"/><circle cx="275.0" cy="209.0" r="1.9"/><circle cx="296.5" cy="318.3" r="1.9"/><circle cx="114.6" cy="318.9" r="1.9"/><circle cx="160.0" cy="256.6" r="1.9"/><circle cx="293.8" cy="238.0" r="1.9"/><circle cx="234.9" cy="102.1" r="1.9"/><circle cx="304.8" cy="271.7" r="1.9"/><circle cx="124.7" cy="282.5" r="1.9"/><circle cx="142.7" cy="296.2" r="1.9"/><circle cx="113.9" cy="294.0" r="1.9"/><circle cx="337.4" cy="311.0" r="1.9"/><circle cx="296.8" cy="281.0" r="1.9"/><circle cx="171.9" cy="200.8" r="1.9"/><circle cx="248.6" cy="159.9" r="1.9"/><circle cx="209.7" cy="83.9" r="1.9"/><circle cx="255.8" cy="180.7" r="1.9"/><circle cx="161.4" cy="232.4" r="1.9"/><circle cx="360.0" cy="318.9" r="1.9"/><circle cx="124.2" cy="293.4" r="1.9"/><circle cx="294.1" cy="273.7" r="1.9"/><circle cx="271.4" cy="195.7" r="1.9"/><circle cx="271.5" cy="244.8" r="1.9"/><circle cx="232.4" cy="114.7" r="1.9"/><circle cx="278.2" cy="254.9" r="1.9"/><circle cx="294.5" cy="258.8" r="1.9"/><circle cx="122.2" cy="300.4" r="1.9"/><circle cx="270.0" cy="231.8" r="1.9"/><circle cx="214.3" cy="82.2" r="1.9"/><circle cx="169.6" cy="213.1" r="1.9"/><circle cx="193.7" cy="158.7" r="1.9"/><circle cx="277.5" cy="239.1" r="1.9"/><circle cx="301.3" cy="295.0" r="1.9"/><circle cx="235.7" cy="123.7" r="1.9"/><circle cx="290.0" cy="244.2" r="1.9"/><circle cx="283.0" cy="259.1" r="1.9"/><circle cx="135.9" cy="264.1" r="1.9"/><circle cx="234.6" cy="112.8" r="1.9"/><circle cx="293.0" cy="316.8" r="1.9"/><circle cx="322.3" cy="307.1" r="1.9"/><circle cx="233.1" cy="94.7" r="1.9"/><circle cx="246.7" cy="156.3" r="1.9"/><circle cx="304.9" cy="320.0" r="1.9"/><circle cx="243.8" cy="151.6" r="1.9"/><circle cx="278.1" cy="241.0" r="1.9"/><circle cx="287.6" cy="245.2" r="1.9"/><circle cx="224.8" cy="59.2" r="1.9"/><circle cx="276.2" cy="211.3" r="1.9"/><circle cx="149.7" cy="266.4" r="1.9"/><circle cx="142.9" cy="293.8" r="1.9"/><circle cx="98.5" cy="310.0" r="1.9"/><circle cx="110.6" cy="294.0" r="1.9"/><circle cx="134.9" cy="313.4" r="1.9"/><circle cx="301.0" cy="299.7" r="1.9"/><circle cx="267.7" cy="213.8" r="1.9"/><circle cx="314.6" cy="312.3" r="1.9"/><circle cx="127.9" cy="284.1" r="1.9"/><circle cx="263.3" cy="223.7" r="1.9"/><circle cx="313.4" cy="290.4" r="1.9"/><circle cx="116.2" cy="305.1" r="1.9"/><circle cx="246.5" cy="148.7" r="1.9"/><circle cx="258.7" cy="206.6" r="1.9"/><circle cx="129.7" cy="317.9" r="1.9"/><circle cx="274.9" cy="251.3" r="1.9"/><circle cx="158.0" cy="222.9" r="1.9"/><circle cx="145.1" cy="292.4" r="1.9"/><circle cx="300.4" cy="282.0" r="1.9"/><circle cx="273.6" cy="218.9" r="1.9"/><circle cx="290.1" cy="285.9" r="1.9"/><circle cx="118.5" cy="316.6" r="1.9"/><circle cx="292.4" cy="258.2" r="1.9"/><circle cx="165.5" cy="223.1" r="1.9"/><circle cx="146.1" cy="244.0" r="1.9"/><circle cx="236.0" cy="118.1" r="1.9"/><circle cx="134.5" cy="292.8" r="1.9"/><circle cx="307.0" cy="307.7" r="1.9"/><circle cx="247.8" cy="163.3" r="1.9"/><circle cx="131.4" cy="268.2" r="1.9"/><circle cx="192.6" cy="154.9" r="1.9"/><circle cx="160.6" cy="207.4" r="1.9"/><circle cx="137.5" cy="264.2" r="1.9"/><circle cx="245.0" cy="160.0" r="1.9"/><circle cx="148.2" cy="279.6" r="1.9"/><circle cx="311.7" cy="290.7" r="1.9"/><circle cx="145.5" cy="320.5" r="1.9"/><circle cx="151.0" cy="271.8" r="1.9"/><circle cx="143.5" cy="310.8" r="1.9"/><circle cx="318.1" cy="295.9" r="1.9"/><circle cx="149.7" cy="250.3" r="1.9"/><circle cx="297.6" cy="256.0" r="1.9"/><circle cx="163.4" cy="244.9" r="1.9"/><circle cx="211.4" cy="91.8" r="1.9"/><circle cx="166.9" cy="222.6" r="1.9"/><circle cx="146.0" cy="275.0" r="1.9"/><circle cx="215.9" cy="57.3" r="1.9"/><circle cx="166.7" cy="196.8" r="1.9"/><circle cx="155.0" cy="255.9" r="1.9"/><circle cx="159.6" cy="208.9" r="1.9"/><circle cx="313.4" cy="294.0" r="1.9"/><circle cx="149.7" cy="260.9" r="1.9"/><circle cx="188.1" cy="169.6" r="1.9"/><circle cx="296.3" cy="264.4" r="1.9"/><circle cx="148.6" cy="319.6" r="1.9"/><circle cx="157.9" cy="234.4" r="1.9"/><circle cx="180.5" cy="172.7" r="1.9"/><circle cx="164.3" cy="198.7" r="1.9"/><circle cx="145.3" cy="265.8" r="1.9"/><circle cx="265.3" cy="219.6" r="1.9"/><circle cx="249.4" cy="153.9" r="1.9"/><circle cx="182.9" cy="180.4" r="1.9"/><circle cx="127.5" cy="309.8" r="1.9"/><circle cx="228.3" cy="80.0" r="1.9"/><circle cx="298.3" cy="237.0" r="1.9"/><circle cx="190.5" cy="172.7" r="1.9"/><circle cx="178.2" cy="196.4" r="1.9"/><circle cx="146.5" cy="271.6" r="1.9"/><circle cx="126.6" cy="290.7" r="1.9"/><circle cx="299.8" cy="270.2" r="1.9"/><circle cx="304.7" cy="292.9" r="1.9"/><circle cx="257.8" cy="185.3" r="1.9"/><circle cx="138.5" cy="259.9" r="1.9"/><circle cx="290.7" cy="304.9" r="1.9"/><circle cx="192.5" cy="153.6" r="1.9"/><circle cx="311.2" cy="305.3" r="1.9"/><circle cx="153.8" cy="285.6" r="1.9"/><circle cx="343.7" cy="320.3" r="1.9"/><circle cx="122.6" cy="272.5" r="1.9"/><circle cx="329.4" cy="318.4" r="1.9"/><circle cx="219.1" cy="53.9" r="1.9"/><circle cx="264.7" cy="216.1" r="1.9"/><circle cx="132.4" cy="320.5" r="1.9"/><circle cx="76.2" cy="319.5" r="1.9"/><circle cx="95.7" cy="312.2" r="1.9"/><circle cx="178.5" cy="180.3" r="1.9"/><circle cx="236.7" cy="111.4" r="1.9"/><circle cx="202.8" cy="129.1" r="1.9"/><circle cx="157.4" cy="229.6" r="1.9"/><circle cx="274.3" cy="237.1" r="1.9"/><circle cx="138.7" cy="250.8" r="1.9"/><circle cx="212.1" cy="95.0" r="1.9"/><circle cx="164.9" cy="227.3" r="1.9"/><circle cx="194.6" cy="147.7" r="1.9"/><circle cx="296.9" cy="272.2" r="1.9"/><circle cx="140.7" cy="229.0" r="1.9"/><circle cx="276.8" cy="209.4" r="1.9"/><circle cx="135.0" cy="292.0" r="1.9"/><circle cx="298.9" cy="278.5" r="1.9"/><circle cx="261.2" cy="209.3" r="1.9"/><circle cx="168.2" cy="206.4" r="1.9"/><circle cx="250.7" cy="147.3" r="1.9"/><circle cx="167.3" cy="218.9" r="1.9"/><circle cx="282.9" cy="222.4" r="1.9"/><circle cx="129.0" cy="277.7" r="1.9"/><circle cx="337.7" cy="303.5" r="1.9"/><circle cx="125.2" cy="315.1" r="1.9"/><circle cx="147.3" cy="260.9" r="1.9"/><circle cx="347.2" cy="318.0" r="1.9"/><circle cx="171.5" cy="195.6" r="1.9"/><circle cx="117.3" cy="268.0" r="1.9"/><circle cx="243.5" cy="142.4" r="1.9"/><circle cx="250.0" cy="157.2" r="1.9"/><circle cx="231.3" cy="83.1" r="1.9"/><circle cx="229.4" cy="101.9" r="1.9"/><circle cx="291.3" cy="246.4" r="1.9"/><circle cx="230.8" cy="75.4" r="1.9"/><circle cx="242.4" cy="137.1" r="1.9"/><circle cx="251.3" cy="152.9" r="1.9"/><circle cx="146.0" cy="238.7" r="1.9"/><circle cx="134.8" cy="314.2" r="1.9"/><circle cx="279.1" cy="252.7" r="1.9"/><circle cx="135.0" cy="285.7" r="1.9"/><circle cx="280.4" cy="220.2" r="1.9"/><circle cx="202.6" cy="117.6" r="1.9"/><circle cx="261.9" cy="187.1" r="1.9"/><circle cx="324.0" cy="300.4" r="1.9"/><circle cx="287.8" cy="236.0" r="1.9"/><circle cx="228.6" cy="73.1" r="1.9"/><circle cx="264.3" cy="220.5" r="1.9"/><circle cx="247.2" cy="146.4" r="1.9"/><circle cx="132.4" cy="311.6" r="1.9"/><circle cx="231.8" cy="108.0" r="1.9"/><circle cx="163.9" cy="197.5" r="1.9"/><circle cx="162.6" cy="218.3" r="1.9"/><circle cx="318.1" cy="292.8" r="1.9"/><circle cx="207.3" cy="103.7" r="1.9"/><circle cx="135.3" cy="319.5" r="1.9"/><circle cx="263.8" cy="212.7" r="1.9"/><circle cx="216.0" cy="59.4" r="1.9"/><circle cx="233.4" cy="101.1" r="1.9"/><circle cx="299.9" cy="258.9" r="1.9"/><circle cx="310.5" cy="291.5" r="1.9"/><circle cx="138.2" cy="273.1" r="1.9"/><circle cx="241.7" cy="132.8" r="1.9"/><circle cx="156.9" cy="263.7" r="1.9"/><circle cx="288.6" cy="251.3" r="1.9"/><circle cx="289.2" cy="278.5" r="1.9"/><circle cx="278.9" cy="256.2" r="1.9"/><circle cx="263.4" cy="210.4" r="1.9"/><circle cx="242.0" cy="139.2" r="1.9"/><circle cx="138.2" cy="258.4" r="1.9"/><circle cx="303.0" cy="322.3" r="1.9"/><circle cx="148.5" cy="230.4" r="1.9"/><circle cx="268.5" cy="193.4" r="1.9"/><circle cx="195.3" cy="142.7" r="1.9"/><circle cx="244.2" cy="159.9" r="1.9"/><circle cx="199.8" cy="129.1" r="1.9"/><circle cx="271.6" cy="242.0" r="1.9"/><circle cx="181.9" cy="168.0" r="1.9"/><circle cx="307.9" cy="293.7" r="1.9"/><circle cx="63.7" cy="313.9" r="1.9"/><circle cx="205.3" cy="114.7" r="1.9"/><circle cx="296.5" cy="276.0" r="1.9"/><circle cx="286.1" cy="246.6" r="1.9"/><circle cx="291.3" cy="296.4" r="1.9"/><circle cx="201.5" cy="114.1" r="1.9"/><circle cx="161.9" cy="202.0" r="1.9"/><circle cx="214.5" cy="50.3" r="1.9"/><circle cx="231.9" cy="97.9" r="1.9"/><circle cx="251.1" cy="162.5" r="1.9"/><circle cx="261.4" cy="207.0" r="1.9"/><circle cx="208.6" cy="113.9" r="1.9"/><circle cx="254.6" cy="160.5" r="1.9"/><circle cx="298.9" cy="286.3" r="1.9"/><circle cx="201.3" cy="140.2" r="1.9"/><circle cx="228.1" cy="73.6" r="1.9"/><circle cx="155.2" cy="268.7" r="1.9"/><circle cx="241.5" cy="118.3" r="1.9"/><circle cx="240.0" cy="124.0" r="1.9"/><circle cx="225.9" cy="63.8" r="1.9"/><circle cx="150.3" cy="273.4" r="1.9"/><circle cx="279.3" cy="270.2" r="1.9"/><circle cx="257.9" cy="193.5" r="1.9"/><circle cx="234.8" cy="115.8" r="1.9"/><circle cx="243.4" cy="132.7" r="1.9"/><circle cx="168.9" cy="195.0" r="1.9"/><circle cx="256.1" cy="194.0" r="1.9"/><circle cx="197.5" cy="144.2" r="1.9"/><circle cx="290.0" cy="262.1" r="1.9"/><circle cx="145.9" cy="284.5" r="1.9"/><circle cx="109.0" cy="315.5" r="1.9"/><circle cx="124.4" cy="287.8" r="1.9"/><circle cx="130.1" cy="277.3" r="1.9"/><circle cx="253.5" cy="179.9" r="1.9"/><circle cx="83.8" cy="302.1" r="1.9"/><circle cx="136.9" cy="258.6" r="1.9"/><circle cx="307.8" cy="277.4" r="1.9"/><circle cx="297.3" cy="320.6" r="1.9"/><circle cx="132.7" cy="305.5" r="1.9"/><circle cx="249.1" cy="159.8" r="1.9"/><circle cx="284.1" cy="228.5" r="1.9"/><circle cx="128.5" cy="321.9" r="1.9"/><circle cx="219.4" cy="43.9" r="1.9"/><circle cx="263.2" cy="180.6" r="1.9"/><circle cx="150.9" cy="232.5" r="1.9"/><circle cx="193.1" cy="159.0" r="1.9"/><circle cx="246.7" cy="165.5" r="1.9"/><circle cx="269.8" cy="193.7" r="1.9"/><circle cx="286.6" cy="249.0" r="1.9"/><circle cx="311.4" cy="254.0" r="1.9"/><circle cx="235.5" cy="109.8" r="1.9"/><circle cx="239.7" cy="131.8" r="1.9"/><circle cx="166.3" cy="232.7" r="1.9"/><circle cx="275.2" cy="217.1" r="1.9"/><circle cx="291.3" cy="242.7" r="1.9"/><circle cx="301.1" cy="268.9" r="1.9"/><circle cx="215.0" cy="85.3" r="1.9"/><circle cx="176.1" cy="202.6" r="1.9"/><circle cx="179.9" cy="200.8" r="1.9"/><circle cx="291.1" cy="246.1" r="1.9"/><circle cx="164.2" cy="210.5" r="1.9"/><circle cx="233.1" cy="122.2" r="1.9"/><circle cx="114.3" cy="280.5" r="1.9"/><circle cx="253.1" cy="165.8" r="1.9"/><circle cx="136.3" cy="306.2" r="1.9"/><circle cx="172.8" cy="175.4" r="1.9"/><circle cx="187.9" cy="157.9" r="1.9"/><circle cx="306.3" cy="289.3" r="1.9"/><circle cx="151.8" cy="224.6" r="1.9"/><circle cx="265.4" cy="194.1" r="1.9"/><circle cx="308.8" cy="313.1" r="1.9"/><circle cx="286.2" cy="252.1" r="1.9"/><circle cx="272.3" cy="207.3" r="1.9"/><circle cx="137.9" cy="283.1" r="1.9"/><circle cx="262.4" cy="178.6" r="1.9"/><circle cx="244.1" cy="133.5" r="1.9"/><circle cx="196.8" cy="138.7" r="1.9"/><circle cx="258.2" cy="173.8" r="1.9"/><circle cx="135.0" cy="314.4" r="1.9"/><circle cx="152.4" cy="307.6" r="1.9"/><circle cx="242.8" cy="145.4" r="1.9"/><circle cx="198.3" cy="140.6" r="1.9"/><circle cx="142.5" cy="304.1" r="1.9"/><circle cx="151.1" cy="253.7" r="1.9"/><circle cx="105.1" cy="314.2" r="1.9"/><circle cx="286.2" cy="233.6" r="1.9"/><circle cx="192.2" cy="152.1" r="1.9"/><circle cx="299.9" cy="297.9" r="1.9"/><circle cx="273.8" cy="235.9" r="1.9"/><circle cx="182.0" cy="189.1" r="1.9"/><circle cx="158.7" cy="232.2" r="1.9"/><circle cx="251.7" cy="168.5" r="1.9"/><circle cx="233.3" cy="103.2" r="1.9"/><circle cx="253.6" cy="183.8" r="1.9"/><circle cx="285.8" cy="282.6" r="1.9"/><circle cx="131.2" cy="263.8" r="1.9"/><circle cx="182.4" cy="165.6" r="1.9"/><circle cx="129.6" cy="283.7" r="1.9"/><circle cx="279.0" cy="236.0" r="1.9"/><circle cx="115.5" cy="297.3" r="1.9"/><circle cx="127.9" cy="286.4" r="1.9"/><circle cx="238.2" cy="118.8" r="1.9"/><circle cx="156.7" cy="251.5" r="1.9"/><circle cx="168.5" cy="194.9" r="1.9"/><circle cx="148.1" cy="305.8" r="1.9"/><circle cx="350.4" cy="318.0" r="1.9"/><circle cx="244.2" cy="147.9" r="1.9"/><circle cx="185.0" cy="161.8" r="1.9"/><circle cx="155.1" cy="264.8" r="1.9"/><circle cx="185.9" cy="172.7" r="1.9"/><circle cx="300.1" cy="306.9" r="1.9"/><circle cx="287.8" cy="266.6" r="1.9"/><circle cx="270.7" cy="208.6" r="1.9"/><circle cx="261.7" cy="180.0" r="1.9"/><circle cx="356.5" cy="307.5" r="1.9"/><circle cx="301.5" cy="318.6" r="1.9"/><circle cx="202.1" cy="140.4" r="1.9"/><circle cx="287.8" cy="277.9" r="1.9"/><circle cx="152.6" cy="247.5" r="1.9"/><circle cx="333.2" cy="314.9" r="1.9"/><circle cx="142.5" cy="290.3" r="1.9"/><circle cx="243.9" cy="159.0" r="1.9"/><circle cx="132.1" cy="320.5" r="1.9"/><circle cx="272.9" cy="219.8" r="1.9"/><circle cx="231.9" cy="117.4" r="1.9"/><circle cx="284.7" cy="236.7" r="1.9"/><circle cx="328.8" cy="313.7" r="1.9"/><circle cx="270.6" cy="197.3" r="1.9"/><circle cx="263.1" cy="208.0" r="1.9"/><circle cx="175.3" cy="184.6" r="1.9"/><circle cx="304.4" cy="312.3" r="1.9"/><circle cx="135.5" cy="310.6" r="1.9"/><circle cx="196.7" cy="151.9" r="1.9"/><circle cx="279.2" cy="216.0" r="1.9"/><circle cx="289.3" cy="268.5" r="1.9"/><circle cx="231.1" cy="102.8" r="1.9"/><circle cx="313.3" cy="307.2" r="1.9"/><circle cx="184.7" cy="161.4" r="1.9"/><circle cx="153.2" cy="312.2" r="1.9"/><circle cx="258.4" cy="183.6" r="1.9"/><circle cx="147.8" cy="223.5" r="1.9"/><circle cx="169.4" cy="193.1" r="1.9"/><circle cx="167.6" cy="212.2" r="1.9"/><circle cx="182.4" cy="189.6" r="1.9"/><circle cx="361.1" cy="314.8" r="1.9"/><circle cx="204.8" cy="121.1" r="1.9"/><circle cx="280.1" cy="234.5" r="1.9"/><circle cx="240.7" cy="139.5" r="1.9"/><circle cx="202.1" cy="122.6" r="1.9"/><circle cx="234.6" cy="114.0" r="1.9"/><circle cx="280.0" cy="216.3" r="1.9"/><circle cx="258.8" cy="182.4" r="1.9"/><circle cx="293.4" cy="246.1" r="1.9"/><circle cx="272.2" cy="227.0" r="1.9"/><circle cx="293.0" cy="292.3" r="1.9"/><circle cx="237.7" cy="134.0" r="1.9"/><circle cx="269.5" cy="201.8" r="1.9"/><circle cx="198.0" cy="129.2" r="1.9"/><circle cx="241.0" cy="127.6" r="1.9"/><circle cx="235.5" cy="128.3" r="1.9"/><circle cx="121.9" cy="319.7" r="1.9"/><circle cx="210.1" cy="85.2" r="1.9"/><circle cx="199.0" cy="133.7" r="1.9"/><circle cx="116.3" cy="297.4" r="1.9"/><circle cx="144.7" cy="269.9" r="1.9"/><circle cx="204.1" cy="108.5" r="1.9"/><circle cx="164.8" cy="226.7" r="1.9"/><circle cx="359.7" cy="313.0" r="1.9"/><circle cx="176.2" cy="202.5" r="1.9"/><circle cx="293.5" cy="250.9" r="1.9"/><circle cx="163.9" cy="209.8" r="1.9"/><circle cx="160.7" cy="240.6" r="1.9"/><circle cx="199.7" cy="131.2" r="1.9"/><circle cx="138.5" cy="318.9" r="1.9"/><circle cx="208.8" cy="107.4" r="1.9"/><circle cx="137.5" cy="291.7" r="1.9"/><circle cx="121.7" cy="272.0" r="1.9"/><circle cx="302.3" cy="320.7" r="1.9"/><circle cx="281.2" cy="247.3" r="1.9"/><circle cx="235.5" cy="113.1" r="1.9"/><circle cx="261.9" cy="188.4" r="1.9"/><circle cx="283.7" cy="245.5" r="1.9"/><circle cx="172.4" cy="198.2" r="1.9"/><circle cx="152.9" cy="216.5" r="1.9"/><circle cx="307.8" cy="292.3" r="1.9"/><circle cx="182.7" cy="187.4" r="1.9"/><circle cx="294.6" cy="273.2" r="1.9"/><circle cx="155.2" cy="245.6" r="1.9"/><circle cx="289.3" cy="275.5" r="1.9"/><circle cx="192.8" cy="161.7" r="1.9"/><circle cx="162.5" cy="216.3" r="1.9"/><circle cx="209.4" cy="95.9" r="1.9"/><circle cx="225.9" cy="84.8" r="1.9"/><circle cx="171.3" cy="210.5" r="1.9"/><circle cx="236.5" cy="111.2" r="1.9"/><circle cx="170.6" cy="209.0" r="1.9"/><circle cx="139.0" cy="303.1" r="1.9"/><circle cx="292.4" cy="229.0" r="1.9"/><circle cx="122.6" cy="290.3" r="1.9"/><circle cx="146.2" cy="270.4" r="1.9"/><circle cx="238.4" cy="117.2" r="1.9"/><circle cx="272.7" cy="203.4" r="1.9"/><circle cx="236.8" cy="109.4" r="1.9"/><circle cx="289.1" cy="268.0" r="1.9"/><circle cx="289.0" cy="247.1" r="1.9"/><circle cx="242.3" cy="138.1" r="1.9"/><circle cx="205.0" cy="108.4" r="1.9"/><circle cx="283.1" cy="215.0" r="1.9"/><circle cx="298.5" cy="261.1" r="1.9"/><circle cx="248.8" cy="148.9" r="1.9"/><circle cx="201.3" cy="119.6" r="1.9"/><circle cx="251.6" cy="167.9" r="1.9"/><circle cx="230.5" cy="79.8" r="1.9"/><circle cx="247.5" cy="139.9" r="1.9"/><circle cx="201.9" cy="116.8" r="1.9"/><circle cx="313.5" cy="304.6" r="1.9"/><circle cx="142.7" cy="308.4" r="1.9"/><circle cx="225.5" cy="68.5" r="1.9"/><circle cx="218.9" cy="49.4" r="1.9"/><circle cx="135.7" cy="279.4" r="1.9"/><circle cx="178.1" cy="206.1" r="1.9"/><circle cx="247.2" cy="148.7" r="1.9"/><circle cx="164.9" cy="210.2" r="1.9"/><circle cx="203.6" cy="119.3" r="1.9"/><circle cx="234.8" cy="102.7" r="1.9"/><circle cx="283.3" cy="269.9" r="1.9"/><circle cx="167.5" cy="196.5" r="1.9"/><circle cx="302.5" cy="263.3" r="1.9"/><circle cx="288.7" cy="286.4" r="1.9"/><circle cx="168.8" cy="186.7" r="1.9"/><circle cx="169.1" cy="195.1" r="1.9"/><circle cx="207.1" cy="97.4" r="1.9"/><circle cx="169.5" cy="195.4" r="1.9"/><circle cx="123.8" cy="255.5" r="1.9"/><circle cx="162.5" cy="215.6" r="1.9"/><circle cx="273.3" cy="203.9" r="1.9"/><circle cx="235.9" cy="101.2" r="1.9"/><circle cx="237.7" cy="107.7" r="1.9"/><circle cx="294.8" cy="250.4" r="1.9"/><circle cx="343.1" cy="317.0" r="1.9"/><circle cx="312.1" cy="300.0" r="1.9"/><circle cx="107.5" cy="320.5" r="1.9"/><circle cx="154.2" cy="236.8" r="1.9"/><circle cx="235.7" cy="116.9" r="1.9"/><circle cx="154.3" cy="281.6" r="1.9"/><circle cx="149.7" cy="262.5" r="1.9"/><circle cx="199.5" cy="130.5" r="1.9"/><circle cx="283.6" cy="221.1" r="1.9"/><circle cx="163.8" cy="220.3" r="1.9"/><circle cx="193.5" cy="163.3" r="1.9"/><circle cx="247.7" cy="152.2" r="1.9"/><circle cx="296.9" cy="244.0" r="1.9"/><circle cx="295.6" cy="260.0" r="1.9"/><circle cx="246.6" cy="167.5" r="1.9"/><circle cx="142.8" cy="264.9" r="1.9"/><circle cx="145.6" cy="239.6" r="1.9"/><circle cx="232.0" cy="94.7" r="1.9"/><circle cx="283.2" cy="242.3" r="1.9"/><circle cx="240.9" cy="132.6" r="1.9"/><circle cx="187.1" cy="163.8" r="1.9"/><circle cx="281.6" cy="228.8" r="1.9"/><circle cx="274.7" cy="232.0" r="1.9"/><circle cx="212.6" cy="83.5" r="1.9"/><circle cx="160.5" cy="228.6" r="1.9"/><circle cx="280.1" cy="242.8" r="1.9"/><circle cx="163.1" cy="219.0" r="1.9"/><circle cx="145.3" cy="297.7" r="1.9"/><circle cx="117.9" cy="267.5" r="1.9"/><circle cx="281.2" cy="270.5" r="1.9"/><circle cx="162.8" cy="210.9" r="1.9"/><circle cx="290.3" cy="258.7" r="1.9"/><circle cx="139.3" cy="299.4" r="1.9"/><circle cx="273.6" cy="230.2" r="1.9"/><circle cx="153.6" cy="245.1" r="1.9"/><circle cx="273.7" cy="208.8" r="1.9"/><circle cx="162.2" cy="223.3" r="1.9"/><circle cx="149.2" cy="246.1" r="1.9"/><circle cx="220.0" cy="50.2" r="1.9"/><circle cx="292.0" cy="244.3" r="1.9"/><circle cx="219.3" cy="40.9" r="1.9"/><circle cx="140.6" cy="278.6" r="1.9"/><circle cx="155.2" cy="274.7" r="1.9"/><circle cx="311.0" cy="286.7" r="1.9"/><circle cx="335.7" cy="299.0" r="1.9"/><circle cx="115.3" cy="321.0" r="1.9"/><circle cx="165.2" cy="222.5" r="1.9"/><circle cx="134.5" cy="294.6" r="1.9"/><circle cx="241.8" cy="137.2" r="1.9"/><circle cx="150.6" cy="256.8" r="1.9"/><circle cx="260.6" cy="185.4" r="1.9"/><circle cx="160.7" cy="240.2" r="1.9"/><circle cx="298.3" cy="261.3" r="1.9"/><circle cx="293.5" cy="245.9" r="1.9"/><circle cx="180.4" cy="192.3" r="1.9"/><circle cx="127.8" cy="290.5" r="1.9"/><circle cx="305.4" cy="293.7" r="1.9"/><circle cx="285.1" cy="250.0" r="1.9"/><circle cx="293.0" cy="256.1" r="1.9"/><circle cx="275.9" cy="209.1" r="1.9"/><circle cx="130.0" cy="296.4" r="1.9"/><circle cx="154.9" cy="221.9" r="1.9"/><circle cx="292.4" cy="258.5" r="1.9"/><circle cx="134.7" cy="314.0" r="1.9"/><circle cx="280.6" cy="236.9" r="1.9"/><circle cx="144.1" cy="311.6" r="1.9"/><circle cx="225.2" cy="49.8" r="1.9"/><circle cx="225.0" cy="73.6" r="1.9"/><circle cx="167.0" cy="215.4" r="1.9"/><circle cx="179.9" cy="160.7" r="1.9"/><circle cx="292.9" cy="297.5" r="1.9"/><circle cx="116.2" cy="307.7" r="1.9"/><circle cx="198.5" cy="141.5" r="1.9"/><circle cx="154.0" cy="221.6" r="1.9"/><circle cx="302.8" cy="299.0" r="1.9"/><circle cx="281.7" cy="268.0" r="1.9"/><circle cx="292.4" cy="300.4" r="1.9"/><circle cx="286.6" cy="282.8" r="1.9"/><circle cx="147.5" cy="265.5" r="1.9"/><circle cx="274.4" cy="235.5" r="1.9"/><circle cx="310.0" cy="286.2" r="1.9"/><circle cx="257.2" cy="181.1" r="1.9"/><circle cx="180.3" cy="186.3" r="1.9"/><circle cx="136.5" cy="285.8" r="1.9"/><circle cx="245.8" cy="136.3" r="1.9"/><circle cx="282.3" cy="249.5" r="1.9"/><circle cx="275.3" cy="209.8" r="1.9"/><circle cx="177.1" cy="170.5" r="1.9"/><circle cx="83.3" cy="313.0" r="1.9"/><circle cx="291.4" cy="207.0" r="1.9"/><circle cx="316.7" cy="319.5" r="1.9"/><circle cx="127.6" cy="298.4" r="1.9"/><circle cx="240.1" cy="144.3" r="1.9"/><circle cx="302.2" cy="310.8" r="1.9"/><circle cx="120.6" cy="284.2" r="1.9"/><circle cx="95.0" cy="306.0" r="1.9"/><circle cx="173.7" cy="180.4" r="1.9"/><circle cx="217.8" cy="72.5" r="1.9"/><circle cx="247.0" cy="142.1" r="1.9"/><circle cx="270.8" cy="208.2" r="1.9"/><circle cx="239.6" cy="123.0" r="1.9"/><circle cx="216.9" cy="39.0" r="1.9"/><circle cx="276.6" cy="251.5" r="1.9"/><circle cx="120.4" cy="294.2" r="1.9"/><circle cx="211.4" cy="105.5" r="1.9"/><circle cx="288.7" cy="282.6" r="1.9"/><circle cx="273.6" cy="249.3" r="1.9"/><circle cx="258.8" cy="181.9" r="1.9"/><circle cx="195.5" cy="151.5" r="1.9"/><circle cx="267.3" cy="214.6" r="1.9"/><circle cx="307.9" cy="267.5" r="1.9"/><circle cx="171.4" cy="189.5" r="1.9"/><circle cx="147.7" cy="236.1" r="1.9"/><circle cx="307.2" cy="282.2" r="1.9"/><circle cx="270.8" cy="243.1" r="1.9"/><circle cx="169.0" cy="228.5" r="1.9"/><circle cx="109.1" cy="311.1" r="1.9"/><circle cx="346.5" cy="316.8" r="1.9"/><circle cx="243.0" cy="148.6" r="1.9"/><circle cx="278.4" cy="250.6" r="1.9"/><circle cx="153.5" cy="279.0" r="1.9"/><circle cx="304.9" cy="277.1" r="1.9"/><circle cx="162.0" cy="224.4" r="1.9"/><circle cx="143.2" cy="309.4" r="1.9"/><circle cx="113.7" cy="299.8" r="1.9"/><circle cx="263.0" cy="210.4" r="1.9"/><circle cx="213.0" cy="88.4" r="1.9"/><circle cx="177.9" cy="168.6" r="1.9"/><circle cx="296.4" cy="275.7" r="1.9"/><circle cx="112.6" cy="289.5" r="1.9"/><circle cx="231.7" cy="93.8" r="1.9"/><circle cx="183.3" cy="167.5" r="1.9"/><circle cx="232.7" cy="116.0" r="1.9"/><circle cx="157.9" cy="237.9" r="1.9"/><circle cx="162.4" cy="221.2" r="1.9"/><circle cx="310.5" cy="287.6" r="1.9"/><circle cx="188.8" cy="176.2" r="1.9"/><circle cx="170.2" cy="198.8" r="1.9"/><circle cx="279.3" cy="228.3" r="1.9"/><circle cx="303.2" cy="313.0" r="1.9"/><circle cx="289.7" cy="289.3" r="1.9"/><circle cx="269.4" cy="201.6" r="1.9"/><circle cx="189.5" cy="166.5" r="1.9"/><circle cx="161.9" cy="245.2" r="1.9"/><circle cx="229.8" cy="101.2" r="1.9"/><circle cx="126.3" cy="277.7" r="1.9"/><circle cx="266.0" cy="195.8" r="1.9"/><circle cx="173.8" cy="185.8" r="1.9"/><circle cx="254.5" cy="180.1" r="1.9"/><circle cx="241.8" cy="129.5" r="1.9"/><circle cx="215.4" cy="64.2" r="1.9"/><circle cx="192.2" cy="140.0" r="1.9"/><circle cx="226.7" cy="81.3" r="1.9"/><circle cx="281.1" cy="256.9" r="1.9"/><circle cx="216.9" cy="62.1" r="1.9"/><circle cx="202.3" cy="134.9" r="1.9"/><circle cx="207.0" cy="114.3" r="1.9"/><circle cx="298.0" cy="263.7" r="1.9"/><circle cx="187.3" cy="170.6" r="1.9"/><circle cx="297.5" cy="267.4" r="1.9"/><circle cx="297.0" cy="287.1" r="1.9"/><circle cx="200.0" cy="147.5" r="1.9"/><circle cx="208.4" cy="117.3" r="1.9"/><circle cx="145.9" cy="298.8" r="1.9"/><circle cx="182.7" cy="166.8" r="1.9"/><circle cx="123.5" cy="310.5" r="1.9"/><circle cx="352.9" cy="301.1" r="1.9"/><circle cx="269.8" cy="221.1" r="1.9"/><circle cx="242.0" cy="138.1" r="1.9"/><circle cx="272.8" cy="243.2" r="1.9"/><circle cx="141.7" cy="317.8" r="1.9"/><circle cx="134.1" cy="290.9" r="1.9"/><circle cx="209.2" cy="112.6" r="1.9"/><circle cx="123.8" cy="303.8" r="1.9"/><circle cx="227.3" cy="75.3" r="1.9"/><circle cx="327.1" cy="311.5" r="1.9"/><circle cx="248.5" cy="154.3" r="1.9"/><circle cx="129.6" cy="321.4" r="1.9"/><circle cx="135.8" cy="283.0" r="1.9"/><circle cx="300.2" cy="268.4" r="1.9"/><circle cx="258.2" cy="198.5" r="1.9"/><circle cx="201.0" cy="135.1" r="1.9"/><circle cx="251.0" cy="161.3" r="1.9"/><circle cx="180.4" cy="174.7" r="1.9"/><circle cx="260.1" cy="193.5" r="1.9"/><circle cx="176.7" cy="174.6" r="1.9"/><circle cx="300.3" cy="281.2" r="1.9"/><circle cx="180.4" cy="160.7" r="1.9"/><circle cx="286.1" cy="256.1" r="1.9"/><circle cx="250.8" cy="157.3" r="1.9"/><circle cx="245.6" cy="152.5" r="1.9"/><circle cx="158.0" cy="216.2" r="1.9"/><circle cx="225.7" cy="50.1" r="1.9"/><circle cx="151.8" cy="262.5" r="1.9"/><circle cx="241.5" cy="125.1" r="1.9"/><circle cx="194.2" cy="147.0" r="1.9"/><circle cx="293.4" cy="254.5" r="1.9"/><circle cx="86.1" cy="309.5" r="1.9"/><circle cx="134.1" cy="269.5" r="1.9"/><circle cx="141.2" cy="292.1" r="1.9"/><circle cx="298.6" cy="283.4" r="1.9"/><circle cx="301.0" cy="275.7" r="1.9"/><circle cx="164.2" cy="215.2" r="1.9"/><circle cx="273.8" cy="252.1" r="1.9"/><circle cx="283.1" cy="240.2" r="1.9"/><circle cx="179.0" cy="163.5" r="1.9"/><circle cx="225.3" cy="71.2" r="1.9"/><circle cx="139.8" cy="314.4" r="1.9"/><circle cx="257.4" cy="164.1" r="1.9"/><circle cx="134.9" cy="262.7" r="1.9"/><circle cx="229.4" cy="104.4" r="1.9"/><circle cx="206.5" cy="123.6" r="1.9"/><circle cx="125.7" cy="286.0" r="1.9"/><circle cx="238.9" cy="127.2" r="1.9"/><circle cx="151.4" cy="285.3" r="1.9"/><circle cx="122.6" cy="299.3" r="1.9"/><circle cx="173.6" cy="194.4" r="1.9"/><circle cx="323.7" cy="270.0" r="1.9"/><circle cx="244.4" cy="146.5" r="1.9"/><circle cx="272.0" cy="219.0" r="1.9"/><circle cx="297.6" cy="287.1" r="1.9"/><circle cx="77.7" cy="308.5" r="1.9"/><circle cx="208.3" cy="120.3" r="1.9"/><circle cx="140.1" cy="304.9" r="1.9"/><circle cx="249.7" cy="165.3" r="1.9"/><circle cx="126.6" cy="291.1" r="1.9"/><circle cx="204.2" cy="110.3" r="1.9"/><circle cx="302.4" cy="289.4" r="1.9"/><circle cx="178.9" cy="204.0" r="1.9"/><circle cx="296.5" cy="271.2" r="1.9"/><circle cx="148.9" cy="295.8" r="1.9"/><circle cx="274.8" cy="238.4" r="1.9"/><circle cx="205.3" cy="109.3" r="1.9"/><circle cx="142.0" cy="321.8" r="1.9"/><circle cx="167.5" cy="198.6" r="1.9"/><circle cx="262.3" cy="207.0" r="1.9"/><circle cx="151.6" cy="239.0" r="1.9"/><circle cx="269.5" cy="209.4" r="1.9"/><circle cx="163.6" cy="202.8" r="1.9"/><circle cx="273.2" cy="214.4" r="1.9"/><circle cx="311.1" cy="309.5" r="1.9"/><circle cx="300.1" cy="313.7" r="1.9"/><circle cx="327.5" cy="316.5" r="1.9"/><circle cx="301.6" cy="317.0" r="1.9"/><circle cx="151.0" cy="250.4" r="1.9"/><circle cx="257.6" cy="187.5" r="1.9"/><circle cx="282.8" cy="242.2" r="1.9"/><circle cx="200.1" cy="144.5" r="1.9"/><circle cx="130.6" cy="300.1" r="1.9"/><circle cx="150.8" cy="266.9" r="1.9"/><circle cx="131.6" cy="283.1" r="1.9"/><circle cx="229.6" cy="87.9" r="1.9"/><circle cx="186.3" cy="174.8" r="1.9"/><circle cx="132.8" cy="319.1" r="1.9"/><circle cx="279.1" cy="243.0" r="1.9"/><circle cx="143.8" cy="275.9" r="1.9"/><circle cx="170.6" cy="185.3" r="1.9"/><circle cx="147.9" cy="304.0" r="1.9"/><circle cx="293.8" cy="261.2" r="1.9"/><circle cx="114.5" cy="315.8" r="1.9"/><circle cx="151.0" cy="279.8" r="1.9"/><circle cx="302.5" cy="295.2" r="1.9"/><circle cx="260.8" cy="178.3" r="1.9"/><circle cx="186.7" cy="176.6" r="1.9"/><circle cx="357.7" cy="316.9" r="1.9"/><circle cx="147.2" cy="271.7" r="1.9"/><circle cx="200.1" cy="127.7" r="1.9"/><circle cx="263.9" cy="189.9" r="1.9"/><circle cx="107.3" cy="273.5" r="1.9"/><circle cx="305.2" cy="246.0" r="1.9"/><circle cx="297.6" cy="292.2" r="1.9"/><circle cx="241.8" cy="126.5" r="1.9"/><circle cx="238.5" cy="120.2" r="1.9"/><circle cx="196.1" cy="137.0" r="1.9"/><circle cx="358.9" cy="318.0" r="1.9"/><circle cx="253.9" cy="189.0" r="1.9"/><circle cx="163.6" cy="200.0" r="1.9"/><circle cx="159.8" cy="227.6" r="1.9"/><circle cx="286.2" cy="230.0" r="1.9"/><circle cx="329.0" cy="295.5" r="1.9"/><circle cx="139.0" cy="297.6" r="1.9"/><circle cx="141.1" cy="317.5" r="1.9"/><circle cx="225.6" cy="75.0" r="1.9"/><circle cx="265.2" cy="227.8" r="1.9"/><circle cx="136.6" cy="268.5" r="1.9"/><circle cx="186.6" cy="164.9" r="1.9"/><circle cx="193.0" cy="139.0" r="1.9"/><circle cx="190.3" cy="159.4" r="1.9"/><circle cx="310.9" cy="322.1" r="1.9"/><circle cx="298.1" cy="296.9" r="1.9"/><circle cx="198.8" cy="148.1" r="1.9"/><circle cx="95.4" cy="319.4" r="1.9"/><circle cx="261.4" cy="181.2" r="1.9"/><circle cx="138.6" cy="276.6" r="1.9"/><circle cx="247.2" cy="151.3" r="1.9"/><circle cx="202.6" cy="113.5" r="1.9"/><circle cx="216.4" cy="76.2" r="1.9"/><circle cx="187.7" cy="181.5" r="1.9"/><circle cx="192.3" cy="148.8" r="1.9"/><circle cx="211.4" cy="91.7" r="1.9"/><circle cx="149.5" cy="249.0" r="1.9"/><circle cx="183.3" cy="192.0" r="1.9"/><circle cx="183.0" cy="180.1" r="1.9"/><circle cx="282.4" cy="252.2" r="1.9"/><circle cx="231.1" cy="105.7" r="1.9"/><circle cx="139.5" cy="266.1" r="1.9"/><circle cx="180.8" cy="179.1" r="1.9"/><circle cx="172.6" cy="196.8" r="1.9"/><circle cx="239.6" cy="126.8" r="1.9"/><circle cx="115.0" cy="296.1" r="1.9"/><circle cx="98.2" cy="320.9" r="1.9"/><circle cx="198.6" cy="150.1" r="1.9"/><circle cx="224.8" cy="43.6" r="1.9"/><circle cx="212.0" cy="105.0" r="1.9"/><circle cx="142.5" cy="296.3" r="1.9"/><circle cx="163.2" cy="197.5" r="1.9"/><circle cx="205.3" cy="106.9" r="1.9"/><circle cx="287.9" cy="307.0" r="1.9"/><circle cx="113.3" cy="322.2" r="1.9"/><circle cx="268.5" cy="228.3" r="1.9"/><circle cx="290.6" cy="286.5" r="1.9"/><circle cx="311.5" cy="311.3" r="1.9"/><circle cx="266.2" cy="196.4" r="1.9"/><circle cx="298.9" cy="262.2" r="1.9"/><circle cx="313.7" cy="280.0" r="1.9"/><circle cx="179.2" cy="177.5" r="1.9"/><circle cx="149.2" cy="278.3" r="1.9"/><circle cx="218.1" cy="61.7" r="1.9"/><circle cx="226.1" cy="85.7" r="1.9"/><circle cx="211.3" cy="82.7" r="1.9"/><circle cx="194.7" cy="146.6" r="1.9"/><circle cx="155.0" cy="266.3" r="1.9"/><circle cx="198.4" cy="124.9" r="1.9"/><circle cx="282.6" cy="262.3" r="1.9"/><circle cx="224.9" cy="66.7" r="1.9"/><circle cx="126.6" cy="274.5" r="1.9"/><circle cx="265.0" cy="197.0" r="1.9"/><circle cx="74.7" cy="309.5" r="1.9"/><circle cx="238.0" cy="125.0" r="1.9"/><circle cx="338.5" cy="319.5" r="1.9"/><circle cx="185.3" cy="184.7" r="1.9"/><circle cx="310.4" cy="272.5" r="1.9"/><circle cx="206.4" cy="120.8" r="1.9"/><circle cx="285.9" cy="272.8" r="1.9"/><circle cx="160.4" cy="205.0" r="1.9"/><circle cx="265.3" cy="211.9" r="1.9"/><circle cx="155.7" cy="244.6" r="1.9"/><circle cx="278.2" cy="232.4" r="1.9"/><circle cx="244.1" cy="148.8" r="1.9"/><circle cx="278.4" cy="231.7" r="1.9"/><circle cx="171.2" cy="220.0" r="1.9"/><circle cx="132.2" cy="307.0" r="1.9"/><circle cx="208.0" cy="117.1" r="1.9"/><circle cx="199.4" cy="142.1" r="1.9"/><circle cx="144.0" cy="315.8" r="1.9"/><circle cx="189.6" cy="173.2" r="1.9"/><circle cx="165.7" cy="218.1" r="1.9"/><circle cx="152.4" cy="293.6" r="1.9"/><circle cx="243.3" cy="150.6" r="1.9"/><circle cx="286.1" cy="275.6" r="1.9"/><circle cx="256.7" cy="191.1" r="1.9"/><circle cx="240.4" cy="140.7" r="1.9"/><circle cx="137.7" cy="318.4" r="1.9"/><circle cx="117.2" cy="317.9" r="1.9"/><circle cx="286.1" cy="265.4" r="1.9"/><circle cx="137.6" cy="252.2" r="1.9"/><circle cx="263.9" cy="204.4" r="1.9"/><circle cx="110.1" cy="300.4" r="1.9"/><circle cx="279.3" cy="261.0" r="1.9"/><circle cx="178.4" cy="173.3" r="1.9"/><circle cx="133.5" cy="262.4" r="1.9"/><circle cx="206.5" cy="127.8" r="1.9"/><circle cx="196.4" cy="137.8" r="1.9"/><circle cx="180.4" cy="187.2" r="1.9"/><circle cx="160.6" cy="233.1" r="1.9"/><circle cx="138.6" cy="268.7" r="1.9"/><circle cx="289.3" cy="269.8" r="1.9"/><circle cx="230.6" cy="110.0" r="1.9"/><circle cx="266.0" cy="199.9" r="1.9"/><circle cx="246.6" cy="157.8" r="1.9"/><circle cx="325.4" cy="299.0" r="1.9"/><circle cx="157.9" cy="220.9" r="1.9"/><circle cx="115.5" cy="296.5" r="1.9"/><circle cx="130.5" cy="283.5" r="1.9"/></g>
<path d="M102.6 322.0 L103.5 320.7 L104.5 319.4 L105.4 318.0 L106.4 316.7 L107.4 315.4 L108.3 314.0 L109.3 312.7 L110.2 311.3 L111.2 309.9 L112.2 308.6 L113.1 307.2 L114.1 305.8 L115.0 304.4 L116.0 303.1 L117.0 301.7 L117.9 300.3 L118.9 298.9 L119.8 297.4 L120.8 296.0 L121.8 294.6 L122.7 293.2 L123.7 291.7 L124.6 290.3 L125.6 288.8 L126.6 287.4 L127.5 285.9 L128.5 284.4 L129.5 282.9 L130.4 281.4 L131.4 279.9 L132.3 278.4 L133.3 276.9 L134.3 275.4 L135.2 273.9 L136.2 272.3 L137.1 270.8 L138.1 269.2 L139.1 267.7 L140.0 266.1 L141.0 264.5 L141.9 262.9 L142.9 261.3 L143.9 259.7 L144.8 258.1 L145.8 256.5 L146.7 254.9 L147.7 253.2 L148.7 251.6 L149.6 249.9 L150.6 248.2 L151.5 246.5 L152.5 244.8 L153.5 243.1 L154.4 241.4 L155.4 239.7 L156.3 237.9 L157.3 236.2 L158.3 234.4 L159.2 232.6 L160.2 230.8 L161.1 229.0 L162.1 227.2 L163.1 225.3 L164.0 223.5 L165.0 221.6 L165.9 219.7 L166.9 217.8 L167.9 215.9 L168.8 214.0 L169.8 212.0 L170.7 210.1 L171.7 208.1 L172.7 206.1 L173.6 204.1 L174.6 202.0 L175.6 200.0 L176.5 197.9 L177.5 195.8 L178.4 193.7 L179.4 191.5 L180.4 189.3 L181.3 187.1 L182.3 184.9 L183.2 182.7 L184.2 180.4 L185.2 178.1 L186.1 175.8 L187.1 173.4 L188.0 171.0 L189.0 168.6 L190.0 166.1 L190.9 163.6 L191.9 161.1 L192.8 158.5 L193.8 155.9 L194.8 153.2 L195.7 150.5 L196.7 147.8 L197.6 145.0 L198.6 142.1 L199.6 139.2 L200.5 136.2 L201.5 133.1 L202.4 130.0 L203.4 126.8 L204.4 123.5 L205.3 120.2 L206.3 116.7 L207.2 113.1 L208.2 109.4 L209.2 105.6 L210.1 101.6 L211.1 97.4 L212.0 93.1 L213.0 88.5 L214.0 83.7 L214.9 78.5 L215.9 73.0 L216.9 66.9 L217.2 64.2 L217.6 61.7 L217.9 59.2 L218.2 56.9 L218.5 54.8 L218.7 52.7 L219.0 50.7 L219.2 48.8 L219.3 47.1 L219.5 45.4 L219.6 43.8 L219.8 42.2 L219.9 40.8 L220.0 39.4 L220.1 38.1 L220.2 36.9 L220.3 35.7 L220.4 34.6 L220.4 33.5 L220.5 32.5 L220.6 31.5 L220.6 30.6 L220.6 29.7 L220.7 28.9 L220.7 28.1 L220.8 27.4 L220.8 26.7 L220.8 26.0 L220.8 25.4 L220.9 24.8 L220.9 24.2 L220.9 23.6 L220.9 23.1 L220.9 22.6 L221.0 22.2 L221.0 21.7 L221.0 21.3 L221.0 20.9 L221.0 20.5 L221.2 20.5 L221.2 20.9 L221.2 21.3 L221.2 21.7 L221.2 22.2 L221.3 22.6 L221.3 23.1 L221.3 23.6 L221.3 24.2 L221.3 24.8 L221.4 25.4 L221.4 26.0 L221.4 26.7 L221.4 27.4 L221.5 28.1 L221.5 28.9 L221.6 29.7 L221.6 30.6 L221.6 31.5 L221.7 32.5 L221.8 33.5 L221.8 34.6 L221.9 35.7 L222.0 36.9 L222.1 38.1 L222.2 39.4 L222.3 40.8 L222.4 42.2 L222.6 43.8 L222.7 45.4 L222.9 47.1 L223.0 48.8 L223.2 50.7 L223.5 52.7 L223.7 54.8 L224.0 56.9 L224.3 59.2 L224.6 61.7 L225.0 64.2 L225.4 66.9 L226.3 73.0 L227.3 78.5 L228.2 83.7 L229.2 88.5 L230.2 93.1 L231.1 97.4 L232.1 101.6 L233.0 105.6 L234.0 109.4 L235.0 113.1 L235.9 116.7 L236.9 120.2 L237.8 123.5 L238.8 126.8 L239.8 130.0 L240.7 133.1 L241.7 136.2 L242.6 139.2 L243.6 142.1 L244.6 145.0 L245.5 147.8 L246.5 150.5 L247.4 153.2 L248.4 155.9 L249.4 158.5 L250.3 161.1 L251.3 163.6 L252.2 166.1 L253.2 168.6 L254.2 171.0 L255.1 173.4 L256.1 175.8 L257.0 178.1 L258.0 180.4 L259.0 182.7 L259.9 184.9 L260.9 187.1 L261.8 189.3 L262.8 191.5 L263.8 193.7 L264.7 195.8 L265.7 197.9 L266.6 200.0 L267.6 202.0 L268.6 204.1 L269.5 206.1 L270.5 208.1 L271.5 210.1 L272.4 212.0 L273.4 214.0 L274.3 215.9 L275.3 217.8 L276.3 219.7 L277.2 221.6 L278.2 223.5 L279.1 225.3 L280.1 227.2 L281.1 229.0 L282.0 230.8 L283.0 232.6 L283.9 234.4 L284.9 236.2 L285.9 237.9 L286.8 239.7 L287.8 241.4 L288.7 243.1 L289.7 244.8 L290.7 246.5 L291.6 248.2 L292.6 249.9 L293.5 251.6 L294.5 253.2 L295.5 254.9 L296.4 256.5 L297.4 258.1 L298.3 259.7 L299.3 261.3 L300.3 262.9 L301.2 264.5 L302.2 266.1 L303.1 267.7 L304.1 269.2 L305.1 270.8 L306.0 272.3 L307.0 273.9 L307.9 275.4 L308.9 276.9 L309.9 278.4 L310.8 279.9 L311.8 281.4 L312.8 282.9 L313.7 284.4 L314.7 285.9 L315.6 287.4 L316.6 288.8 L317.6 290.3 L318.5 291.7 L319.5 293.2 L320.4 294.6 L321.4 296.0 L322.4 297.4 L323.3 298.9 L324.3 300.3 L325.2 301.7 L326.2 303.1 L327.2 304.4 L328.1 305.8 L329.1 307.2 L330.0 308.6 L331.0 309.9 L332.0 311.3 L332.9 312.7 L333.9 314.0 L334.8 315.4 L335.8 316.7 L336.8 318.0 L337.7 319.4 L338.7 320.7 L339.6 322.0" fill="none" stroke="#000" stroke-width="2.3" stroke-linejoin="round"/>
<path d="M161.8 322.0 L162.5 315.8 L163.3 309.6 L164.0 303.6 L164.8 297.6 L165.5 291.7 L166.3 285.8 L167.0 280.1 L167.8 274.4 L168.5 268.8 L169.3 263.3 L170.0 257.9 L170.8 252.5 L171.5 247.3 L172.2 242.1 L173.0 236.9 L173.7 231.9 L174.5 226.9 L175.2 222.1 L176.0 217.2 L176.7 212.5 L177.5 207.9 L178.2 203.3 L179.0 198.8 L179.7 194.4 L180.5 190.1 L181.2 185.8 L182.0 181.6 L182.7 177.5 L183.5 173.5 L184.2 169.6 L185.0 165.7 L185.7 162.0 L186.4 158.3 L187.2 154.6 L187.9 151.1 L188.7 147.6 L189.4 144.2 L190.2 140.9 L190.9 137.7 L191.7 134.5 L192.4 131.5 L193.2 128.5 L193.9 125.6 L194.7 122.7 L195.4 120.0 L196.2 117.3 L196.9 114.7 L197.7 112.2 L198.4 109.7 L199.2 107.4 L199.9 105.1 L200.6 102.9 L201.4 100.8 L202.1 98.7 L202.9 96.7 L203.6 94.8 L204.4 93.0 L205.1 91.3 L205.9 89.7 L206.6 88.1 L207.4 86.6 L208.1 85.2 L208.9 83.8 L209.6 82.6 L210.4 81.4 L211.1 80.3 L211.9 79.3 L212.6 78.3 L213.4 77.4 L214.1 76.7 L214.8 75.9 L215.6 75.3 L216.3 74.8 L217.1 74.3 L217.8 73.9 L218.6 73.6 L219.3 73.3 L220.1 73.2 L220.8 73.1 L221.6 73.1 L222.3 73.2 L223.1 73.3 L223.8 73.6 L224.6 73.9 L225.3 74.3 L226.1 74.8 L226.8 75.3 L227.6 75.9 L228.3 76.7 L229.0 77.4 L229.8 78.3 L230.5 79.3 L231.3 80.3 L232.0 81.4 L232.8 82.6 L233.5 83.8 L234.3 85.2 L235.0 86.6 L235.8 88.1 L236.5 89.7 L237.3 91.3 L238.0 93.0 L238.8 94.8 L239.5 96.7 L240.3 98.7 L241.0 100.8 L241.8 102.9 L242.5 105.1 L243.2 107.4 L244.0 109.7 L244.7 112.2 L245.5 114.7 L246.2 117.3 L247.0 120.0 L247.7 122.7 L248.5 125.6 L249.2 128.5 L250.0 131.5 L250.7 134.5 L251.5 137.7 L252.2 140.9 L253.0 144.2 L253.7 147.6 L254.5 151.1 L255.2 154.6 L256.0 158.3 L256.7 162.0 L257.4 165.7 L258.2 169.6 L258.9 173.5 L259.7 177.5 L260.4 181.6 L261.2 185.8 L261.9 190.1 L262.7 194.4 L263.4 198.8 L264.2 203.3 L264.9 207.9 L265.7 212.5 L266.4 217.2 L267.2 222.1 L267.9 226.9 L268.7 231.9 L269.4 236.9 L270.2 242.1 L270.9 247.3 L271.6 252.5 L272.4 257.9 L273.1 263.3 L273.9 268.8 L274.6 274.4 L275.4 280.1 L276.1 285.8 L276.9 291.7 L277.6 297.6 L278.4 303.6 L279.1 309.6 L279.9 315.8 L280.6 322.0" fill="none" stroke="#f00" stroke-width="2.2" stroke-dasharray="5 3.9" stroke-dashoffset="5.28"/>
<rect x="51.5" y="20.5" width="340.0" height="301.5" fill="none" stroke="#333" stroke-width="1"/>
<path d="M51.50 322.0 v-3.5 M51.50 20.5 v3.5 M94.00 322.0 v-3.5 M94.00 20.5 v3.5 M136.50 322.0 v-3.5 M136.50 20.5 v3.5 M179.00 322.0 v-3.5 M179.00 20.5 v3.5 M221.50 322.0 v-3.5 M221.50 20.5 v3.5 M264.00 322.0 v-3.5 M264.00 20.5 v3.5 M306.50 322.0 v-3.5 M306.50 20.5 v3.5 M349.00 322.0 v-3.5 M349.00 20.5 v3.5 M391.50 322.0 v-3.5 M391.50 20.5 v3.5 M51.5 20.50 h3.5 M391.5 20.50 h-3.5 M51.5 54.00 h3.5 M391.5 54.00 h-3.5 M51.5 87.50 h3.5 M391.5 87.50 h-3.5 M51.5 121.00 h3.5 M391.5 121.00 h-3.5 M51.5 154.50 h3.5 M391.5 154.50 h-3.5 M51.5 188.00 h3.5 M391.5 188.00 h-3.5 M51.5 221.50 h3.5 M391.5 221.50 h-3.5 M51.5 255.00 h3.5 M391.5 255.00 h-3.5 M51.5 288.50 h3.5 M391.5 288.50 h-3.5 M51.5 322.00 h3.5 M391.5 322.00 h-3.5" fill="none" stroke="#333" stroke-width="0.9"/>
<g class="tk"><text x="48.8" y="26.1" text-anchor="end">0</text><text x="48.8" y="59.6" text-anchor="end">1</text><text x="40.4" y="60.8" text-anchor="end">−</text><text x="48.8" y="93.1" text-anchor="end">2</text><text x="40.4" y="94.3" text-anchor="end">−</text><text x="48.8" y="126.6" text-anchor="end">3</text><text x="40.4" y="127.8" text-anchor="end">−</text><text x="48.8" y="160.1" text-anchor="end">4</text><text x="40.4" y="161.3" text-anchor="end">−</text><text x="48.8" y="193.6" text-anchor="end">5</text><text x="40.4" y="194.8" text-anchor="end">−</text><text x="48.8" y="227.1" text-anchor="end">6</text><text x="40.4" y="228.3" text-anchor="end">−</text><text x="48.8" y="260.6" text-anchor="end">7</text><text x="40.4" y="261.8" text-anchor="end">−</text><text x="48.8" y="294.1" text-anchor="end">8</text><text x="40.4" y="295.3" text-anchor="end">−</text><text x="48.8" y="327.6" text-anchor="end">9</text><text x="40.4" y="328.8" text-anchor="end">−</text><text x="59.5" y="339.2" text-anchor="end">40</text><text x="42.5" y="340.4" text-anchor="end">−</text><text x="102.0" y="339.2" text-anchor="end">30</text><text x="85.0" y="340.4" text-anchor="end">−</text><text x="144.5" y="339.2" text-anchor="end">20</text><text x="127.5" y="340.4" text-anchor="end">−</text><text x="187.0" y="339.2" text-anchor="end">10</text><text x="170.0" y="340.4" text-anchor="end">−</text><text x="221.2" y="339.2" text-anchor="middle">0</text><text x="263.7" y="339.2" text-anchor="middle">10</text><text x="306.2" y="339.2" text-anchor="middle">20</text><text x="348.7" y="339.2" text-anchor="middle">30</text><text x="391.2" y="339.2" text-anchor="middle">40</text></g>
<g class="lg">
<circle cx="289" cy="33.2" r="1.5" fill="none" stroke="#555" stroke-width="0.6"/>
<text x="303" y="37.3">Obs.</text>
<path d="M277 48H300.3" stroke="#000" stroke-width="2.3"/>
<text x="302.5" y="52.0">GG(p=0.52)</text>
<path d="M277 63.3H300.4" stroke="#f00" stroke-width="2.2" stroke-dasharray="4.8 4.5"/>
<text x="302.5" y="67.2">Gaussian(p=2)</text>
</g>
<text class="ax" x="220.6" y="356.2" text-anchor="middle" letter-spacing="0.6">&#934;<tspan font-size="14.5" dy="3" font-style="italic">T</tspan><tspan dy="-3">(1000 hPa)</tspan></text>
<text class="ax" transform="translate(22.5 172.0) rotate(-90)" text-anchor="middle" letter-spacing="0" style="font-size:20.5px">log (Prob.)</text>
</svg>
</body></html>
